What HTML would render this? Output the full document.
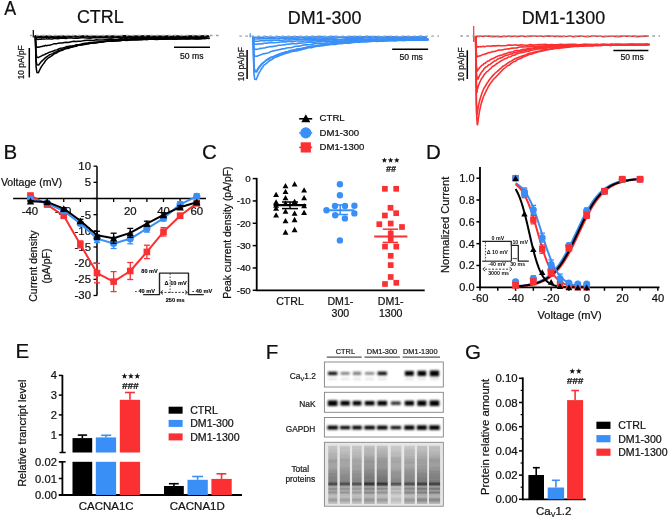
<!DOCTYPE html><html><head><meta charset="utf-8"><style>html,body{margin:0;padding:0;background:#fff;overflow:hidden}svg{display:block}text{filter:grayscale(1)}text{font-family:"Liberation Sans",sans-serif}</style></head><body><svg width="668" height="519" viewBox="0 0 668 519"><rect width="668" height="519" fill="#fff"/><text x="4.2" y="15.4" font-size="20.2" text-anchor="start" fill="#111" stroke="#111" stroke-width="0.22" textLength="11.9" lengthAdjust="spacingAndGlyphs" >A</text>
<text x="3.6" y="159.0" font-size="20.5" text-anchor="start" fill="#111" stroke="#111" stroke-width="0.22" >B</text>
<text x="201.9" y="159.3" font-size="20.5" text-anchor="start" fill="#111" stroke="#111" stroke-width="0.22" >C</text>
<text x="426.0" y="159.0" font-size="20.5" text-anchor="start" fill="#111" stroke="#111" stroke-width="0.22" >D</text>
<text x="15.6" y="358.4" font-size="20.5" text-anchor="start" fill="#111" stroke="#111" stroke-width="0.22" >E</text>
<text x="265.8" y="358.6" font-size="20.5" text-anchor="start" fill="#111" stroke="#111" stroke-width="0.22" >F</text>
<text x="464.9" y="358.5" font-size="20.5" text-anchor="start" fill="#111" stroke="#111" stroke-width="0.22" >G</text>
<polyline points="35.30,35.80 36.10,36.44 36.90,36.59 37.00,36.60 37.00,36.60 38.00,36.58 39.00,36.57 40.00,36.55 41.00,36.36 42.00,36.56 43.00,36.42 44.00,36.57 45.00,36.58 46.00,36.17 47.00,36.12 48.00,36.69 49.00,36.27 51.00,36.23 53.00,36.75 55.00,36.36 57.00,36.60 59.00,36.33 61.00,36.42 63.00,36.07 65.00,36.39 67.00,36.54 69.00,36.29 71.00,36.43 73.00,36.37 75.00,35.93 77.00,36.41 80.00,36.27 83.00,36.06 86.00,35.86 89.00,36.43 92.00,36.15 95.00,36.31 98.00,36.41 101.00,36.29 104.00,36.43 107.00,36.05 110.00,36.33 113.00,36.07 116.00,36.41 119.00,36.37 122.00,35.82 125.00,35.84 128.00,35.89 131.00,36.41 134.00,36.04 137.00,36.17 140.00,35.94 143.00,36.08 146.00,35.99 149.00,35.97 152.00,36.13 155.00,36.13 158.00,36.35 161.00,36.19 164.00,36.36 167.00,36.31 170.00,36.41 173.00,36.18 176.00,35.82 179.00,36.31 182.00,36.38 185.00,36.34 188.00,36.11 191.00,36.21 194.00,35.85 197.00,36.29 200.00,36.11 203.00,35.90 206.00,35.75 209.00,36.30" fill="none" stroke="#000000" stroke-width="1.5" stroke-linejoin="round" />
<polyline points="35.30,35.80 36.10,37.29 36.90,37.58 37.50,37.60 37.50,37.60 38.50,37.57 39.50,37.54 40.50,37.51 41.50,37.83 42.50,37.17 43.50,37.65 44.50,37.35 45.50,37.14 46.50,37.22 47.50,37.53 48.50,37.58 49.50,36.98 51.50,37.33 53.50,36.90 55.50,37.33 57.50,37.02 59.50,37.38 61.50,37.42 63.50,37.05 65.50,37.37 67.50,36.86 69.50,36.67 71.50,37.02 73.50,36.60 75.50,36.69 77.50,36.82 80.50,36.93 83.50,36.59 86.50,36.49 89.50,37.05 92.50,36.64 95.50,37.07 98.50,37.01 101.50,36.63 104.50,36.68 107.50,36.71 110.50,36.78 113.50,36.74 116.50,36.70 119.50,36.73 122.50,36.95 125.50,36.64 128.50,36.58 131.50,36.78 134.50,36.43 137.50,36.47 140.50,36.94 143.50,36.62 146.50,36.63 149.50,36.25 152.50,36.53 155.50,36.64 158.50,36.25 161.50,36.66 164.50,36.67 167.50,36.27 170.50,36.66 173.50,36.55 176.50,36.70 179.50,36.46 182.50,36.71 185.50,36.73 188.50,36.23 191.50,36.26 194.50,36.69 197.50,36.89 200.50,36.39 203.50,36.53 206.50,36.62 209.50,36.43" fill="none" stroke="#000000" stroke-width="1.5" stroke-linejoin="round" />
<polyline points="35.30,35.80 36.10,38.81 36.90,39.36 38.00,39.40 38.00,39.40 39.00,39.35 40.00,39.29 41.00,39.24 42.00,39.09 43.00,39.01 44.00,39.00 45.00,39.11 46.00,38.86 47.00,38.87 48.00,39.11 49.00,38.54 50.00,38.88 52.00,38.92 54.00,38.55 56.00,38.42 58.00,38.76 60.00,38.31 62.00,38.21 64.00,38.33 66.00,38.46 68.00,38.00 70.00,38.11 72.00,38.07 74.00,38.38 76.00,38.07 78.00,38.32 81.00,37.79 84.00,37.86 87.00,38.04 90.00,38.16 93.00,37.82 96.00,37.63 99.00,37.53 102.00,37.78 105.00,37.52 108.00,37.93 111.00,37.93 114.00,37.45 117.00,37.50 120.00,37.85 123.00,37.72 126.00,37.82 129.00,37.49 132.00,37.32 135.00,37.43 138.00,37.77 141.00,37.39 144.00,37.44 147.00,37.48 150.00,37.47 153.00,37.46 156.00,37.81 159.00,37.27 162.00,37.16 165.00,37.81 168.00,37.76 171.00,37.83 174.00,37.44 177.00,37.80 180.00,37.78 183.00,37.29 186.00,37.65 189.00,37.71 192.00,37.59 195.00,37.49 198.00,37.32 201.00,37.36 204.00,37.28 207.00,37.16" fill="none" stroke="#000000" stroke-width="1.5" stroke-linejoin="round" />
<polyline points="35.30,35.80 36.10,45.53 36.90,47.18 38.30,47.30 38.30,47.30 39.30,47.05 40.30,46.80 41.30,46.56 42.30,46.39 43.30,45.95 44.30,46.10 45.30,45.35 46.30,45.74 47.30,45.39 48.30,45.36 49.30,45.15 50.30,44.97 52.30,44.39 54.30,43.66 56.30,43.85 58.30,43.15 60.30,42.96 62.30,42.95 64.30,42.60 66.30,42.28 68.30,42.43 70.30,41.99 72.30,41.60 74.30,41.34 76.30,41.59 78.30,41.15 81.30,41.13 84.30,40.61 87.30,40.31 90.30,40.36 93.30,40.39 96.30,39.79 99.30,40.08 102.30,40.04 105.30,39.84 108.30,39.74 111.30,39.07 114.30,39.42 117.30,39.50 120.30,38.85 123.30,38.93 126.30,38.87 129.30,38.99 132.30,38.86 135.30,38.84 138.30,39.01 141.30,38.43 144.30,38.42 147.30,38.44 150.30,38.40 153.30,38.33 156.30,38.94 159.30,38.83 162.30,38.27 165.30,38.54 168.30,38.39 171.30,38.37 174.30,38.38 177.30,38.57 180.30,38.52 183.30,38.35 186.30,38.21 189.30,38.30 192.30,38.15 195.30,38.44 198.30,38.54 201.30,38.30 204.30,38.08 207.30,38.15" fill="none" stroke="#000000" stroke-width="1.5" stroke-linejoin="round" />
<polyline points="35.30,35.80 36.10,54.11 36.90,57.18 38.60,57.40 38.60,57.40 39.60,56.86 40.60,56.34 41.60,55.83 42.60,55.25 43.60,54.93 44.60,54.59 45.60,53.85 46.60,53.71 47.60,53.16 48.60,52.61 49.60,52.16 50.60,51.85 52.60,51.25 54.60,50.34 56.60,49.86 58.60,49.06 60.60,48.31 62.60,47.95 64.60,47.52 66.60,46.58 68.60,46.35 70.60,45.90 72.60,45.80 74.60,45.43 76.60,44.66 78.60,44.67 80.60,44.26 83.60,43.41 86.60,43.12 89.60,42.48 92.60,42.60 95.60,42.16 98.60,42.01 101.60,41.66 104.60,41.32 107.60,41.12 110.60,40.79 113.60,40.26 116.60,40.42 119.60,39.84 122.60,39.78 125.60,40.08 128.60,39.44 131.60,39.35 134.60,39.25 137.60,39.70 140.60,39.11 143.60,38.92 146.60,39.41 149.60,38.84 152.60,39.28 155.60,39.10 158.60,39.15 161.60,39.19 164.60,38.88 167.60,38.99 170.60,38.42 173.60,38.89 176.60,38.68 179.60,38.79 182.60,38.34 185.60,38.76 188.60,38.87 191.60,38.23 194.60,38.40 197.60,38.55 200.60,38.72 203.60,38.29 206.60,38.23 209.60,38.27" fill="none" stroke="#000000" stroke-width="1.5" stroke-linejoin="round" />
<polyline points="35.30,35.80 36.10,60.66 36.90,64.80 38.60,65.10 38.60,65.10 39.60,63.73 40.60,62.49 41.60,61.36 42.60,60.41 43.60,59.55 44.60,58.43 45.60,57.60 46.60,56.86 47.60,56.13 48.60,55.52 49.60,54.66 50.60,54.37 52.60,53.64 54.60,52.28 56.60,51.64 58.60,50.43 60.60,50.06 62.60,49.42 64.60,48.73 66.60,48.03 68.60,47.45 70.60,47.04 72.60,46.73 74.60,45.75 76.60,45.28 78.60,45.33 80.60,45.06 83.60,44.25 86.60,43.71 89.60,43.45 92.60,42.67 95.60,42.35 98.60,41.95 101.60,41.91 104.60,41.43 107.60,41.10 110.60,41.18 113.60,41.13 116.60,40.47 119.60,40.56 122.60,40.19 125.60,40.33 128.60,40.00 131.60,39.64 134.60,39.48 137.60,39.23 140.60,39.45 143.60,39.29 146.60,39.05 149.60,39.10 152.60,39.00 155.60,39.25 158.60,38.75 161.60,39.28 164.60,38.87 167.60,38.91 170.60,38.77 173.60,38.99 176.60,38.94 179.60,38.72 182.60,38.64 185.60,38.78 188.60,38.85 191.60,38.50 194.60,38.71 197.60,38.85 200.60,38.49 203.60,38.30 206.60,38.29 209.60,38.61" fill="none" stroke="#000000" stroke-width="1.5" stroke-linejoin="round" />
<polyline points="35.30,35.80 36.10,67.20 36.90,72.43 38.40,72.80 38.40,72.80 39.40,70.51 40.40,68.48 41.40,66.66 42.40,65.15 43.40,63.89 44.40,62.49 45.40,60.87 46.40,59.74 47.40,58.80 48.40,57.83 49.40,57.36 50.40,56.69 52.40,55.33 54.40,53.67 56.40,53.03 58.40,51.69 60.40,50.90 62.40,50.33 64.40,49.16 66.40,48.50 68.40,48.41 70.40,47.46 72.40,46.97 74.40,46.62 76.40,46.22 78.40,45.31 81.40,44.93 84.40,44.44 87.40,43.97 90.40,43.31 93.40,43.14 96.40,43.01 99.40,42.25 102.40,42.03 105.40,41.43 108.40,41.26 111.40,41.27 114.40,40.65 117.40,40.98 120.40,40.80 123.40,40.05 126.40,40.47 129.40,39.92 132.40,40.06 135.40,39.92 138.40,39.48 141.40,39.64 144.40,39.52 147.40,39.54 150.40,39.07 153.40,39.34 156.40,39.41 159.40,39.15 162.40,38.99 165.40,38.64 168.40,38.86 171.40,38.71 174.40,38.92 177.40,38.86 180.40,38.74 183.40,38.44 186.40,38.74 189.40,38.70 192.40,38.36 195.40,38.83 198.40,38.65 201.40,38.25 204.40,38.80 207.40,38.23" fill="none" stroke="#000000" stroke-width="1.5" stroke-linejoin="round" />
<line x1="33.3" y1="30.1" x2="33.3" y2="37.4" stroke="#000000" stroke-width="1.2" />
<line x1="30" y1="35.5" x2="222" y2="35.5" stroke="#a0a0a0" stroke-width="1.3" stroke-dasharray="2.6,3.4"/>
<polyline points="253.10,36.40 253.90,37.12 254.70,37.29 254.50,37.30 254.50,37.30 255.50,37.29 256.50,37.27 257.50,37.26 258.50,37.13 259.50,37.39 260.50,37.30 261.50,37.25 262.50,37.31 263.50,37.16 264.50,37.05 265.50,36.95 266.50,36.86 268.50,37.30 270.50,37.30 272.50,37.14 274.50,37.26 276.50,36.98 278.50,36.89 280.50,36.96 282.50,37.29 284.50,36.69 286.50,37.00 288.50,36.81 290.50,37.16 292.50,36.86 294.50,36.84 297.50,36.87 300.50,36.95 303.50,37.10 306.50,36.79 309.50,37.13 312.50,36.60 315.50,36.70 318.50,36.57 321.50,36.57 324.50,37.03 327.50,36.98 330.50,36.60 333.50,36.59 336.50,36.74 339.50,36.97 342.50,37.01 345.50,36.96 348.50,36.84 351.50,36.53 354.50,36.70 357.50,36.55 360.50,36.78 363.50,36.81 366.50,36.55 369.50,36.58 372.50,36.94 375.50,36.42 378.50,36.95 381.50,37.01 384.50,37.05 387.50,36.65 390.50,36.77 393.50,36.79 396.50,36.82 399.50,37.06 402.50,36.86 405.50,36.58 408.50,36.97 411.50,36.71 414.50,36.79 417.50,36.88 420.50,36.37 423.50,36.91 426.50,36.83" fill="none" stroke="#3a8ff6" stroke-width="1.6" stroke-linejoin="round" />
<polyline points="253.10,36.40 253.90,38.56 254.70,38.97 255.00,39.00 255.00,39.00 256.00,38.97 257.00,38.94 258.00,38.91 259.00,38.87 260.00,38.87 261.00,38.80 262.00,38.58 263.00,38.79 264.00,38.42 265.00,38.72 266.00,38.80 267.00,38.63 269.00,38.67 271.00,38.90 273.00,38.81 275.00,38.24 277.00,38.66 279.00,38.50 281.00,38.06 283.00,38.25 285.00,38.12 287.00,37.98 289.00,38.28 291.00,38.52 293.00,38.07 295.00,38.42 298.00,38.26 301.00,37.83 304.00,38.31 307.00,38.09 310.00,38.29 313.00,38.12 316.00,38.11 319.00,37.81 322.00,38.11 325.00,38.17 328.00,38.10 331.00,37.79 334.00,37.99 337.00,37.79 340.00,37.51 343.00,37.45 346.00,37.46 349.00,37.53 352.00,37.49 355.00,37.72 358.00,37.85 361.00,37.72 364.00,37.63 367.00,37.78 370.00,37.54 373.00,37.64 376.00,37.84 379.00,37.58 382.00,37.42 385.00,37.92 388.00,37.79 391.00,37.53 394.00,37.53 397.00,37.64 400.00,37.68 403.00,37.42 406.00,37.26 409.00,37.40 412.00,37.80 415.00,37.35 418.00,37.57 421.00,37.38 424.00,37.38 427.00,37.36" fill="none" stroke="#3a8ff6" stroke-width="1.6" stroke-linejoin="round" />
<polyline points="253.10,36.40 253.90,40.52 254.70,41.25 255.50,41.30 255.50,41.30 256.50,41.24 257.50,41.19 258.50,41.14 259.50,41.02 260.50,40.80 261.50,40.65 262.50,40.66 263.50,40.66 264.50,40.84 265.50,40.49 266.50,40.42 267.50,40.67 269.50,40.56 271.50,40.69 273.50,40.15 275.50,40.32 277.50,40.25 279.50,39.92 281.50,40.51 283.50,39.93 285.50,39.78 287.50,39.99 289.50,39.72 291.50,39.98 293.50,39.74 295.50,39.54 298.50,39.42 301.50,39.83 304.50,39.45 307.50,39.75 310.50,39.47 313.50,39.75 316.50,39.26 319.50,39.18 322.50,39.15 325.50,39.50 328.50,39.33 331.50,39.10 334.50,38.89 337.50,39.27 340.50,39.45 343.50,39.16 346.50,38.72 349.50,38.72 352.50,38.74 355.50,38.77 358.50,38.66 361.50,38.65 364.50,39.06 367.50,39.21 370.50,38.71 373.50,39.24 376.50,38.88 379.50,39.09 382.50,39.16 385.50,39.17 388.50,38.52 391.50,38.70 394.50,38.91 397.50,39.14 400.50,38.53 403.50,38.66 406.50,39.05 409.50,38.53 412.50,38.71 415.50,38.67 418.50,38.90 421.50,39.07 424.50,38.54 427.50,38.93" fill="none" stroke="#3a8ff6" stroke-width="1.6" stroke-linejoin="round" />
<polyline points="253.10,36.40 253.90,42.98 254.70,44.12 256.00,44.20 256.00,44.20 257.00,44.09 258.00,43.99 259.00,43.88 260.00,43.94 261.00,43.92 262.00,43.62 263.00,43.78 264.00,43.30 265.00,43.24 266.00,43.02 267.00,43.32 268.00,43.03 270.00,42.71 272.00,42.48 274.00,42.72 276.00,42.49 278.00,42.43 280.00,42.06 282.00,42.01 284.00,41.65 286.00,41.92 288.00,41.33 290.00,41.53 292.00,41.63 294.00,41.48 296.00,40.98 299.00,40.94 302.00,41.24 305.00,40.98 308.00,41.03 311.00,40.92 314.00,40.53 317.00,40.75 320.00,40.55 323.00,40.19 326.00,40.14 329.00,39.86 332.00,40.02 335.00,40.35 338.00,39.70 341.00,39.97 344.00,39.60 347.00,39.53 350.00,39.88 353.00,39.55 356.00,39.38 359.00,39.41 362.00,39.72 365.00,39.65 368.00,39.22 371.00,39.34 374.00,39.83 377.00,39.28 380.00,39.50 383.00,39.38 386.00,39.61 389.00,39.47 392.00,39.58 395.00,39.38 398.00,39.12 401.00,39.10 404.00,39.02 407.00,39.53 410.00,39.01 413.00,38.94 416.00,39.59 419.00,39.04 422.00,39.52 425.00,38.94 428.00,39.20" fill="none" stroke="#3a8ff6" stroke-width="1.6" stroke-linejoin="round" />
<polyline points="253.10,36.40 253.90,47.41 254.70,49.27 256.30,49.40 256.30,49.40 257.30,49.18 258.30,48.97 259.30,48.76 260.30,48.36 261.30,48.58 262.30,48.23 263.30,48.06 264.30,47.95 265.30,47.85 266.30,47.30 267.30,47.30 268.30,47.02 270.30,46.45 272.30,46.64 274.30,46.16 276.30,46.02 278.30,45.31 280.30,45.27 282.30,44.96 284.30,44.90 286.30,44.21 288.30,44.17 290.30,44.05 292.30,43.55 294.30,43.69 296.30,43.62 299.30,43.13 302.30,43.03 305.30,42.76 308.30,42.27 311.30,42.15 314.30,42.41 317.30,41.76 320.30,41.65 323.30,41.25 326.30,41.19 329.30,41.01 332.30,41.41 335.30,41.14 338.30,41.13 341.30,41.10 344.30,40.73 347.30,40.86 350.30,40.49 353.30,40.32 356.30,40.61 359.30,40.51 362.30,40.47 365.30,40.08 368.30,40.22 371.30,39.90 374.30,40.26 377.30,40.16 380.30,39.67 383.30,40.07 386.30,39.51 389.30,39.41 392.30,39.81 395.30,39.47 398.30,39.60 401.30,39.65 404.30,39.21 407.30,39.67 410.30,39.32 413.30,39.40 416.30,39.32 419.30,39.58 422.30,39.56 425.30,39.22 428.30,39.08" fill="none" stroke="#3a8ff6" stroke-width="1.6" stroke-linejoin="round" />
<polyline points="253.10,36.40 253.90,53.27 254.70,56.10 256.60,56.30 256.60,56.30 257.60,55.93 258.60,55.58 259.60,55.23 260.60,54.74 261.60,54.48 262.60,53.92 263.60,53.65 264.60,53.77 265.60,53.41 266.60,53.31 267.60,53.01 268.60,52.65 270.60,51.74 272.60,51.06 274.60,50.65 276.60,50.26 278.60,49.83 280.60,49.39 282.60,48.84 284.60,48.77 286.60,47.97 288.60,47.72 290.60,47.65 292.60,47.25 294.60,46.55 296.60,46.20 299.60,46.14 302.60,45.15 305.60,44.84 308.60,44.74 311.60,44.40 314.60,43.81 317.60,43.42 320.60,43.24 323.60,43.36 326.60,42.89 329.60,43.01 332.60,42.66 335.60,42.58 338.60,41.72 341.60,41.64 344.60,41.35 347.60,41.48 350.60,41.27 353.60,40.92 356.60,41.13 359.60,40.69 362.60,40.73 365.60,40.57 368.60,40.86 371.60,40.49 374.60,40.29 377.60,40.06 380.60,40.25 383.60,40.31 386.60,40.27 389.60,40.37 392.60,40.24 395.60,39.79 398.60,39.66 401.60,40.04 404.60,40.02 407.60,39.77 410.60,39.96 413.60,39.72 416.60,39.50 419.60,39.38 422.60,39.25 425.60,39.65 428.60,39.80" fill="none" stroke="#3a8ff6" stroke-width="1.6" stroke-linejoin="round" />
<polyline points="253.10,36.40 253.90,65.59 254.70,70.45 256.60,70.80 256.60,70.80 257.60,69.07 258.60,67.54 259.60,66.19 260.60,65.27 261.60,63.89 262.60,63.06 263.60,62.37 264.60,61.49 265.60,60.61 266.60,59.80 267.60,59.25 268.60,58.42 270.60,57.37 272.60,56.78 274.60,56.14 276.60,55.05 278.60,54.22 280.60,53.50 282.60,52.93 284.60,52.57 286.60,51.76 288.60,51.57 290.60,50.49 292.60,50.10 294.60,49.78 296.60,49.25 299.60,48.91 302.60,48.30 305.60,47.81 308.60,47.06 311.60,46.16 314.60,46.08 317.60,45.63 320.60,45.18 323.60,44.65 326.60,44.60 329.60,44.41 332.60,43.53 335.60,43.63 338.60,43.14 341.60,42.99 344.60,43.01 347.60,42.83 350.60,42.39 353.60,41.88 356.60,42.20 359.60,41.51 362.60,41.49 365.60,41.64 368.60,41.14 371.60,40.97 374.60,41.32 377.60,41.20 380.60,40.65 383.60,40.60 386.60,40.42 389.60,40.22 392.60,40.22 395.60,40.65 398.60,39.94 401.60,39.98 404.60,39.89 407.60,39.74 410.60,40.00 413.60,40.09 416.60,40.11 419.60,39.92 422.60,40.00 425.60,39.39 428.60,39.54" fill="none" stroke="#3a8ff6" stroke-width="1.6" stroke-linejoin="round" />
<polyline points="253.10,36.40 253.90,66.61 254.70,71.64 256.60,72.00 256.60,72.00 257.60,70.13 258.60,68.49 259.60,67.04 260.60,66.08 261.60,64.31 262.60,63.42 263.60,62.64 264.60,61.65 265.60,61.07 266.60,60.01 267.60,59.49 268.60,59.39 270.60,57.72 272.60,57.28 274.60,55.89 276.60,55.65 278.60,54.68 280.60,53.97 282.60,52.96 284.60,52.28 286.60,52.19 288.60,51.23 290.60,50.71 292.60,50.65 294.60,50.21 296.60,49.17 299.60,49.16 302.60,48.25 305.60,47.57 308.60,46.84 311.60,46.54 314.60,46.49 317.60,45.55 320.60,45.04 323.60,44.66 326.60,44.28 329.60,44.10 332.60,44.18 335.60,43.29 338.60,43.09 341.60,43.35 344.60,43.14 347.60,42.90 350.60,42.17 353.60,42.04 356.60,42.27 359.60,41.77 362.60,41.75 365.60,41.32 368.60,40.97 371.60,41.06 374.60,41.21 377.60,41.12 380.60,40.85 383.60,40.67 386.60,40.62 389.60,40.46 392.60,40.44 395.60,40.57 398.60,40.05 401.60,40.25 404.60,40.42 407.60,40.30 410.60,39.77 413.60,40.26 416.60,40.12 419.60,39.60 422.60,39.63 425.60,39.54 428.60,39.39" fill="none" stroke="#3a8ff6" stroke-width="1.6" stroke-linejoin="round" />
<polyline points="253.10,36.40 253.90,73.07 254.70,79.16 256.30,79.60 256.30,79.60 257.30,76.85 258.30,74.47 259.30,72.39 260.30,70.90 261.30,68.90 262.30,67.80 263.30,66.01 264.30,64.81 265.30,64.39 266.30,63.42 267.30,62.72 268.30,61.73 270.30,60.26 272.30,59.24 274.30,57.72 276.30,57.09 278.30,56.17 280.30,55.17 282.30,54.75 284.30,53.86 286.30,53.34 288.30,52.63 290.30,52.00 292.30,51.47 294.30,51.11 296.30,50.87 299.30,50.12 302.30,49.40 305.30,48.75 308.30,47.78 311.30,47.71 314.30,46.70 317.30,46.11 320.30,45.92 323.30,45.65 326.30,44.98 329.30,44.82 332.30,44.21 335.30,44.36 338.30,43.70 341.30,43.42 344.30,43.19 347.30,43.18 350.30,43.02 353.30,42.47 356.30,42.20 359.30,42.13 362.30,41.56 365.30,41.64 368.30,41.77 371.30,41.57 374.30,40.93 377.30,41.35 380.30,40.89 383.30,41.20 386.30,40.66 389.30,40.45 392.30,40.58 395.30,40.73 398.30,40.33 401.30,40.55 404.30,40.37 407.30,40.05 410.30,39.94 413.30,40.03 416.30,39.89 419.30,39.82 422.30,39.97 425.30,40.08 428.30,39.83" fill="none" stroke="#3a8ff6" stroke-width="1.6" stroke-linejoin="round" />
<line x1="250.2" y1="33.2" x2="250.2" y2="37.5" stroke="#3a8ff6" stroke-width="1.2" />
<line x1="239.3" y1="36.1" x2="439" y2="36.1" stroke="#a0a0a0" stroke-width="1.3" stroke-dasharray="2.6,3.4"/>
<polyline points="475.60,36.30 476.40,36.34 477.20,36.40 476.50,36.40 476.50,36.40 477.50,36.40 478.50,36.39 479.50,36.39 480.50,36.14 481.50,36.19 482.50,36.29 483.50,36.46 484.50,36.13 485.50,36.09 486.50,36.25 487.50,36.22 488.50,36.04 490.50,36.40 492.50,36.66 494.50,36.39 496.50,36.53 498.50,36.59 500.50,36.59 502.50,36.64 504.50,36.31 506.50,36.48 508.50,36.08 510.50,36.61 512.50,36.26 514.50,36.32 516.50,36.61 519.50,36.19 522.50,36.12 525.50,36.56 528.50,36.40 531.50,36.04 534.50,36.00 537.50,36.23 540.50,35.98 543.50,36.56 546.50,36.11 549.50,36.17 552.50,36.25 555.50,36.33 558.50,36.28 561.50,36.41 564.50,36.44 567.50,36.28 570.50,36.04 573.50,36.66 576.50,36.46 579.50,36.03 582.50,36.28 585.50,36.50 588.50,36.67 591.50,36.02 594.50,35.98 597.50,36.31 600.50,36.27 603.50,36.60 606.50,36.55 609.50,36.20 612.50,36.26 615.50,36.38 618.50,36.59 621.50,36.11 624.50,36.24 627.50,36.03 630.50,36.42 633.50,35.99 636.50,36.62 639.50,36.34 642.50,36.37 645.50,36.03 648.50,36.13" fill="none" stroke="#fa3032" stroke-width="1.6" stroke-linejoin="round" />
<polyline points="475.60,36.30 476.40,45.35 477.20,46.89 476.30,47.00 476.30,47.00 477.30,46.92 478.30,46.83 479.30,46.75 480.30,46.66 481.30,46.85 482.30,46.56 483.30,46.31 484.30,46.73 485.30,46.45 486.30,46.29 487.30,46.00 488.30,46.01 490.30,46.32 492.30,45.68 494.30,45.87 496.30,45.84 498.30,45.57 500.30,45.78 502.30,45.81 504.30,45.70 506.30,45.56 508.30,45.12 510.30,44.97 512.30,45.18 514.30,45.04 516.30,44.92 518.30,45.35 521.30,44.83 524.30,45.20 527.30,45.24 530.30,44.62 533.30,45.14 536.30,44.74 539.30,44.58 542.30,44.54 545.30,44.41 548.30,44.71 551.30,44.61 554.30,44.92 557.30,44.89 560.30,44.33 563.30,44.56 566.30,44.53 569.30,44.38 572.30,44.42 575.30,44.42 578.30,44.71 581.30,44.46 584.30,44.29 587.30,44.36 590.30,44.51 593.30,44.59 596.30,44.36 599.30,44.68 602.30,44.33 605.30,44.65 608.30,44.60 611.30,44.30 614.30,44.70 617.30,44.45 620.30,44.55 623.30,44.58 626.30,44.60 629.30,44.47 632.30,44.20 635.30,44.71 638.30,44.76 641.30,44.50 644.30,44.56 647.30,44.34" fill="none" stroke="#fa3032" stroke-width="1.6" stroke-linejoin="round" />
<polyline points="475.60,36.30 476.40,53.85 477.20,56.79 476.80,57.00 476.80,57.00 477.80,56.58 478.80,56.17 479.80,55.77 480.80,55.67 481.80,55.15 482.80,54.47 483.80,54.54 484.80,54.33 485.80,53.56 486.80,53.70 487.80,53.04 488.80,52.54 490.80,52.37 492.80,51.59 494.80,51.38 496.80,50.83 498.80,50.08 500.80,49.98 502.80,49.85 504.80,49.24 506.80,48.97 508.80,48.90 510.80,48.33 512.80,48.11 514.80,47.93 516.80,47.87 518.80,47.23 521.80,46.86 524.80,47.07 527.80,46.69 530.80,46.30 533.80,46.53 536.80,46.35 539.80,45.95 542.80,46.13 545.80,45.89 548.80,45.72 551.80,45.30 554.80,45.01 557.80,45.39 560.80,45.35 563.80,45.02 566.80,45.05 569.80,45.05 572.80,44.78 575.80,45.05 578.80,44.91 581.80,44.75 584.80,44.53 587.80,44.81 590.80,44.62 593.80,44.88 596.80,44.47 599.80,44.61 602.80,44.45 605.80,44.58 608.80,44.69 611.80,44.34 614.80,44.30 617.80,44.58 620.80,44.38 623.80,44.58 626.80,44.34 629.80,44.28 632.80,44.58 635.80,44.85 638.80,44.80 641.80,44.55 644.80,44.47 647.80,44.23" fill="none" stroke="#fa3032" stroke-width="1.6" stroke-linejoin="round" />
<polyline points="475.60,36.30 476.40,66.09 477.20,71.05 477.00,71.40 477.00,71.40 478.00,69.83 479.00,68.49 480.00,67.33 481.00,66.14 482.00,65.25 483.00,64.85 484.00,63.50 485.00,63.36 486.00,62.35 487.00,61.67 488.00,60.94 489.00,60.85 491.00,59.22 493.00,58.48 495.00,57.50 497.00,56.42 499.00,55.62 501.00,55.40 503.00,54.56 505.00,53.86 507.00,53.37 509.00,52.23 511.00,52.12 513.00,51.66 515.00,50.82 517.00,50.55 520.00,50.32 523.00,49.32 526.00,49.14 529.00,48.29 532.00,48.24 535.00,47.61 538.00,47.45 541.00,47.07 544.00,47.16 547.00,46.83 550.00,46.45 553.00,46.39 556.00,46.03 559.00,46.14 562.00,45.62 565.00,45.69 568.00,45.61 571.00,45.37 574.00,45.03 577.00,45.04 580.00,45.29 583.00,44.92 586.00,45.24 589.00,45.01 592.00,45.28 595.00,45.16 598.00,45.03 601.00,44.75 604.00,44.48 607.00,44.81 610.00,44.92 613.00,45.02 616.00,44.49 619.00,44.44 622.00,45.00 625.00,44.81 628.00,44.62 631.00,44.79 634.00,44.36 637.00,44.63 640.00,44.71 643.00,44.65 646.00,44.33 649.00,44.31" fill="none" stroke="#fa3032" stroke-width="1.6" stroke-linejoin="round" />
<polyline points="475.60,36.30 476.40,72.63 477.20,78.67 478.00,79.10 478.00,79.10 479.00,76.67 480.00,74.67 481.00,72.99 482.00,71.64 483.00,70.56 484.00,68.91 485.00,67.80 486.00,66.92 487.00,66.55 488.00,65.46 489.00,64.75 490.00,64.40 492.00,62.78 494.00,61.30 496.00,60.47 498.00,58.92 500.00,58.13 502.00,57.50 504.00,56.27 506.00,55.37 508.00,54.97 510.00,54.14 512.00,53.94 514.00,52.72 516.00,52.64 518.00,51.83 521.00,51.39 524.00,50.48 527.00,50.05 530.00,49.27 533.00,48.72 536.00,48.45 539.00,48.30 542.00,47.63 545.00,47.23 548.00,47.07 551.00,46.59 554.00,46.51 557.00,46.48 560.00,46.27 563.00,46.14 566.00,45.77 569.00,45.44 572.00,45.32 575.00,45.42 578.00,45.22 581.00,45.39 584.00,45.10 587.00,45.37 590.00,45.19 593.00,45.17 596.00,45.17 599.00,44.97 602.00,44.86 605.00,44.73 608.00,44.53 611.00,45.01 614.00,44.77 617.00,44.46 620.00,45.02 623.00,44.76 626.00,44.77 629.00,44.62 632.00,44.38 635.00,44.98 638.00,44.39 641.00,44.51 644.00,44.95 647.00,44.32 650.00,44.58" fill="none" stroke="#fa3032" stroke-width="1.6" stroke-linejoin="round" />
<polyline points="475.60,36.30 476.40,84.11 477.20,92.03 476.50,92.60 476.50,92.60 477.50,88.68 478.50,85.52 479.50,82.93 480.50,80.74 481.50,78.72 482.50,77.57 483.50,75.77 484.50,74.19 485.50,73.32 486.50,71.89 487.50,71.35 488.50,70.49 490.50,68.72 492.50,66.48 494.50,65.42 496.50,63.76 498.50,62.58 500.50,61.25 502.50,60.12 504.50,58.95 506.50,58.32 508.50,57.03 510.50,56.78 512.50,55.34 514.50,55.24 516.50,54.01 519.50,52.98 522.50,52.58 525.50,51.65 528.50,51.12 531.50,50.30 534.50,49.82 537.50,48.92 540.50,48.87 543.50,48.34 546.50,48.28 549.50,47.27 552.50,47.01 555.50,47.16 558.50,47.08 561.50,46.51 564.50,46.51 567.50,46.22 570.50,45.93 573.50,45.84 576.50,45.80 579.50,45.28 582.50,45.36 585.50,45.57 588.50,45.14 591.50,45.21 594.50,44.99 597.50,45.00 600.50,45.14 603.50,45.15 606.50,45.26 609.50,44.88 612.50,44.65 615.50,44.71 618.50,44.48 621.50,44.58 624.50,44.79 627.50,44.79 630.50,44.51 633.50,44.45 636.50,44.37 639.50,44.41 642.50,44.63 645.50,44.44 648.50,44.87" fill="none" stroke="#fa3032" stroke-width="1.6" stroke-linejoin="round" />
<polyline points="475.60,36.30 476.40,102.98 477.20,114.01 477.00,114.80 477.00,114.80 478.00,108.42 479.00,103.36 480.00,99.27 481.00,95.94 482.00,92.94 483.00,90.56 484.00,88.15 485.00,86.73 486.00,85.01 487.00,83.15 488.00,81.93 489.00,80.24 491.00,77.67 493.00,75.38 495.00,73.25 497.00,71.58 499.00,69.80 501.00,68.17 503.00,66.17 505.00,65.17 507.00,63.60 509.00,62.25 511.00,61.15 513.00,59.99 515.00,58.79 517.00,57.96 520.00,56.81 523.00,55.66 526.00,54.72 529.00,53.24 532.00,52.84 535.00,51.99 538.00,51.21 541.00,50.75 544.00,49.58 547.00,49.51 550.00,49.12 553.00,48.15 556.00,48.09 559.00,47.99 562.00,47.22 565.00,47.34 568.00,47.12 571.00,46.56 574.00,46.15 577.00,46.01 580.00,46.27 583.00,45.84 586.00,45.62 589.00,45.59 592.00,45.82 595.00,45.25 598.00,44.99 601.00,45.56 604.00,45.05 607.00,45.03 610.00,45.38 613.00,44.84 616.00,44.66 619.00,45.17 622.00,44.68 625.00,44.63 628.00,45.10 631.00,44.58 634.00,45.02 637.00,44.60 640.00,44.56 643.00,44.48 646.00,44.69 649.00,44.68" fill="none" stroke="#fa3032" stroke-width="1.6" stroke-linejoin="round" />
<polyline points="475.60,36.30 476.40,111.48 477.20,123.91 477.50,124.80 477.50,124.80 478.50,117.31 479.50,111.40 480.50,106.63 481.50,102.64 482.50,99.43 483.50,96.48 484.50,94.40 485.50,92.29 486.50,90.19 487.50,88.43 488.50,86.24 489.50,84.80 491.50,81.90 493.50,79.27 495.50,77.46 497.50,75.22 499.50,73.19 501.50,71.04 503.50,68.96 505.50,67.53 507.50,65.73 509.50,64.89 511.50,63.10 513.50,61.86 515.50,61.16 517.50,59.55 520.50,58.55 523.50,56.77 526.50,55.80 529.50,54.31 532.50,53.87 535.50,52.63 538.50,51.79 541.50,51.28 544.50,50.58 547.50,49.75 550.50,49.13 553.50,48.96 556.50,48.14 559.50,48.34 562.50,47.62 565.50,47.18 568.50,47.01 571.50,46.60 574.50,46.51 577.50,46.46 580.50,46.17 583.50,45.95 586.50,45.77 589.50,45.76 592.50,45.84 595.50,45.49 598.50,45.62 601.50,45.33 604.50,44.99 607.50,44.95 610.50,45.36 613.50,45.04 616.50,44.92 619.50,44.96 622.50,45.15 625.50,44.78 628.50,44.74 631.50,44.71 634.50,44.43 637.50,44.77 640.50,44.70 643.50,44.69 646.50,44.64 649.50,44.64" fill="none" stroke="#fa3032" stroke-width="1.6" stroke-linejoin="round" />
<line x1="473.7" y1="26" x2="473.7" y2="42" stroke="#fa3032" stroke-width="1.2" />
<line x1="460.4" y1="36.0" x2="660" y2="36.0" stroke="#a0a0a0" stroke-width="1.3" stroke-dasharray="2.6,3.4"/>
<line x1="29.3" y1="48" x2="29.3" y2="77.4" stroke="#000" stroke-width="1.5" />
<line x1="174" y1="47.2" x2="210" y2="47.2" stroke="#000" stroke-width="1.5" />
<text x="191.8" y="59.3" font-size="8.6" text-anchor="middle" fill="#111" stroke="#111" stroke-width="0.22" >50 ms</text>
<text transform="translate(21.0,62.3) rotate(-90)" x="0" y="0" font-size="8.4" text-anchor="middle" dominant-baseline="central" fill="#111" stroke="#111" stroke-width="0.22">10 pA/pF</text>
<line x1="247.1" y1="50" x2="247.1" y2="78.9" stroke="#000" stroke-width="1.5" />
<line x1="392.2" y1="49.3" x2="428.1" y2="49.3" stroke="#000" stroke-width="1.5" />
<text x="411.2" y="60.3" font-size="8.6" text-anchor="middle" fill="#111" stroke="#111" stroke-width="0.22" >50 ms</text>
<text transform="translate(240.9,64.2) rotate(-90)" x="0" y="0" font-size="8.4" text-anchor="middle" dominant-baseline="central" fill="#111" stroke="#111" stroke-width="0.22">10 pA/pF</text>
<line x1="467.3" y1="50.3" x2="467.3" y2="79" stroke="#000" stroke-width="1.5" />
<line x1="613.4" y1="50.6" x2="648.4" y2="50.6" stroke="#000" stroke-width="1.5" />
<text x="632.1" y="60.2" font-size="8.6" text-anchor="middle" fill="#111" stroke="#111" stroke-width="0.22" >50 ms</text>
<text transform="translate(460.9,64.4) rotate(-90)" x="0" y="0" font-size="8.4" text-anchor="middle" dominant-baseline="central" fill="#111" stroke="#111" stroke-width="0.22">10 pA/pF</text>
<text x="100.3" y="22.9" font-size="17.9" text-anchor="middle" fill="#111" stroke="#111" stroke-width="0.22" >CTRL</text>
<text x="324.6" y="23.7" font-size="17.9" text-anchor="middle" fill="#111" stroke="#111" stroke-width="0.22" >DM1-300</text>
<text x="563.4" y="23.7" font-size="17.9" text-anchor="middle" fill="#111" stroke="#111" stroke-width="0.22" >DM1-1300</text>
<line x1="13.1" y1="198.5" x2="206" y2="198.5" stroke="#000" stroke-width="1.5" />
<line x1="97.0" y1="166.3" x2="97.0" y2="295.6" stroke="#000" stroke-width="1.5" />
<line x1="93.5" y1="295.49" x2="97.0" y2="295.49" stroke="#000" stroke-width="1.3" />
<line x1="93.5" y1="279.325" x2="97.0" y2="279.325" stroke="#000" stroke-width="1.3" />
<line x1="93.5" y1="263.15999999999997" x2="97.0" y2="263.15999999999997" stroke="#000" stroke-width="1.3" />
<line x1="93.5" y1="246.995" x2="97.0" y2="246.995" stroke="#000" stroke-width="1.3" />
<line x1="93.5" y1="230.82999999999998" x2="97.0" y2="230.82999999999998" stroke="#000" stroke-width="1.3" />
<line x1="93.5" y1="214.665" x2="97.0" y2="214.665" stroke="#000" stroke-width="1.3" />
<line x1="93.5" y1="198.5" x2="97.0" y2="198.5" stroke="#000" stroke-width="1.3" />
<line x1="93.5" y1="182.335" x2="97.0" y2="182.335" stroke="#000" stroke-width="1.3" />
<line x1="93.5" y1="166.17000000000002" x2="97.0" y2="166.17000000000002" stroke="#000" stroke-width="1.3" />
<line x1="30.5" y1="198.5" x2="30.5" y2="202.0" stroke="#000" stroke-width="1.3" />
<line x1="47.125" y1="198.5" x2="47.125" y2="202.0" stroke="#000" stroke-width="1.3" />
<line x1="63.75" y1="198.5" x2="63.75" y2="202.0" stroke="#000" stroke-width="1.3" />
<line x1="80.375" y1="198.5" x2="80.375" y2="202.0" stroke="#000" stroke-width="1.3" />
<line x1="113.625" y1="198.5" x2="113.625" y2="202.0" stroke="#000" stroke-width="1.3" />
<line x1="130.25" y1="198.5" x2="130.25" y2="202.0" stroke="#000" stroke-width="1.3" />
<line x1="146.875" y1="198.5" x2="146.875" y2="202.0" stroke="#000" stroke-width="1.3" />
<line x1="163.5" y1="198.5" x2="163.5" y2="202.0" stroke="#000" stroke-width="1.3" />
<line x1="180.125" y1="198.5" x2="180.125" y2="202.0" stroke="#000" stroke-width="1.3" />
<line x1="196.75" y1="198.5" x2="196.75" y2="202.0" stroke="#000" stroke-width="1.3" />
<text x="91.0" y="170.17000000000002" font-size="11.4" text-anchor="end" fill="#111" stroke="#111" stroke-width="0.22" >10</text>
<text x="91.0" y="186.335" font-size="11.4" text-anchor="end" fill="#111" stroke="#111" stroke-width="0.22" >5</text>
<text x="91.0" y="218.665" font-size="11.4" text-anchor="end" fill="#111" stroke="#111" stroke-width="0.22" >-5</text>
<text x="91.0" y="234.82999999999998" font-size="11.4" text-anchor="end" fill="#111" stroke="#111" stroke-width="0.22" >-10</text>
<text x="91.0" y="250.995" font-size="11.4" text-anchor="end" fill="#111" stroke="#111" stroke-width="0.22" >-15</text>
<text x="91.0" y="267.15999999999997" font-size="11.4" text-anchor="end" fill="#111" stroke="#111" stroke-width="0.22" >-20</text>
<text x="91.0" y="283.325" font-size="11.4" text-anchor="end" fill="#111" stroke="#111" stroke-width="0.22" >-25</text>
<text x="91.0" y="299.49" font-size="11.4" text-anchor="end" fill="#111" stroke="#111" stroke-width="0.22" >-30</text>
<text x="29.9" y="215.3" font-size="11.4" text-anchor="middle" fill="#111" stroke="#111" stroke-width="0.22" >-40</text>
<text x="63.15" y="215.3" font-size="11.4" text-anchor="middle" fill="#111" stroke="#111" stroke-width="0.22" >-20</text>
<text x="130.25" y="215.3" font-size="11.4" text-anchor="middle" fill="#111" stroke="#111" stroke-width="0.22" >20</text>
<text x="163.5" y="215.3" font-size="11.4" text-anchor="middle" fill="#111" stroke="#111" stroke-width="0.22" >40</text>
<text x="196.75" y="215.3" font-size="11.4" text-anchor="middle" fill="#111" stroke="#111" stroke-width="0.22" >60</text>
<text x="0.9" y="185.5" font-size="10.6" text-anchor="start" fill="#111" stroke="#111" stroke-width="0.22" >Voltage (mV)</text>
<text transform="translate(32.9,266.2) rotate(-90)" x="0" y="0" font-size="10.5" text-anchor="middle" dominant-baseline="central" fill="#111" stroke="#111" stroke-width="0.22">Current density</text>
<text transform="translate(45.6,266.0) rotate(-90)" x="0" y="0" font-size="10.5" text-anchor="middle" dominant-baseline="central" fill="#111" stroke="#111" stroke-width="0.22">(pA/pF)</text>
<line x1="30.5" y1="195.0" x2="30.5" y2="196.0" stroke="#fa3032" stroke-width="1.3" />
<line x1="27.5" y1="195.0" x2="33.5" y2="195.0" stroke="#fa3032" stroke-width="1.3" />
<line x1="27.5" y1="196.0" x2="33.5" y2="196.0" stroke="#fa3032" stroke-width="1.3" />
<line x1="47.125" y1="203.6" x2="47.125" y2="205.6" stroke="#fa3032" stroke-width="1.3" />
<line x1="44.125" y1="203.6" x2="50.125" y2="203.6" stroke="#fa3032" stroke-width="1.3" />
<line x1="44.125" y1="205.6" x2="50.125" y2="205.6" stroke="#fa3032" stroke-width="1.3" />
<line x1="63.75" y1="214.3" x2="63.75" y2="217.3" stroke="#fa3032" stroke-width="1.3" />
<line x1="60.75" y1="214.3" x2="66.75" y2="214.3" stroke="#fa3032" stroke-width="1.3" />
<line x1="60.75" y1="217.3" x2="66.75" y2="217.3" stroke="#fa3032" stroke-width="1.3" />
<line x1="80.375" y1="240.9" x2="80.375" y2="247.9" stroke="#fa3032" stroke-width="1.3" />
<line x1="77.375" y1="240.9" x2="83.375" y2="240.9" stroke="#fa3032" stroke-width="1.3" />
<line x1="77.375" y1="247.9" x2="83.375" y2="247.9" stroke="#fa3032" stroke-width="1.3" />
<line x1="97.0" y1="263.40000000000003" x2="97.0" y2="282.8" stroke="#fa3032" stroke-width="1.3" />
<line x1="94.0" y1="263.40000000000003" x2="100.0" y2="263.40000000000003" stroke="#fa3032" stroke-width="1.3" />
<line x1="94.0" y1="282.8" x2="100.0" y2="282.8" stroke="#fa3032" stroke-width="1.3" />
<line x1="113.625" y1="271.6" x2="113.625" y2="291.6" stroke="#fa3032" stroke-width="1.3" />
<line x1="110.625" y1="271.6" x2="116.625" y2="271.6" stroke="#fa3032" stroke-width="1.3" />
<line x1="110.625" y1="291.6" x2="116.625" y2="291.6" stroke="#fa3032" stroke-width="1.3" />
<line x1="130.25" y1="262.5" x2="130.25" y2="279.5" stroke="#fa3032" stroke-width="1.3" />
<line x1="127.25" y1="262.5" x2="133.25" y2="262.5" stroke="#fa3032" stroke-width="1.3" />
<line x1="127.25" y1="279.5" x2="133.25" y2="279.5" stroke="#fa3032" stroke-width="1.3" />
<line x1="146.875" y1="245.20000000000002" x2="146.875" y2="258.6" stroke="#fa3032" stroke-width="1.3" />
<line x1="143.875" y1="245.20000000000002" x2="149.875" y2="245.20000000000002" stroke="#fa3032" stroke-width="1.3" />
<line x1="143.875" y1="258.6" x2="149.875" y2="258.6" stroke="#fa3032" stroke-width="1.3" />
<line x1="163.5" y1="227.60000000000002" x2="163.5" y2="236.0" stroke="#fa3032" stroke-width="1.3" />
<line x1="160.5" y1="227.60000000000002" x2="166.5" y2="227.60000000000002" stroke="#fa3032" stroke-width="1.3" />
<line x1="160.5" y1="236.0" x2="166.5" y2="236.0" stroke="#fa3032" stroke-width="1.3" />
<line x1="180.125" y1="213.3" x2="180.125" y2="218.3" stroke="#fa3032" stroke-width="1.3" />
<line x1="177.125" y1="213.3" x2="183.125" y2="213.3" stroke="#fa3032" stroke-width="1.3" />
<line x1="177.125" y1="218.3" x2="183.125" y2="218.3" stroke="#fa3032" stroke-width="1.3" />
<line x1="196.75" y1="201.9" x2="196.75" y2="204.9" stroke="#fa3032" stroke-width="1.3" />
<line x1="193.75" y1="201.9" x2="199.75" y2="201.9" stroke="#fa3032" stroke-width="1.3" />
<line x1="193.75" y1="204.9" x2="199.75" y2="204.9" stroke="#fa3032" stroke-width="1.3" />
<polyline points="30.50,195.50 47.12,204.60 63.75,215.80 80.38,244.40 97.00,273.10 113.62,281.60 130.25,271.00 146.88,251.90 163.50,231.80 180.12,215.80 196.75,203.40" fill="none" stroke="#fa3032" stroke-width="2.0" stroke-linejoin="round" />
<rect x="27.20" y="192.20" width="6.6" height="6.6" fill="#fa3032"/>
<rect x="43.83" y="201.30" width="6.6" height="6.6" fill="#fa3032"/>
<rect x="60.45" y="212.50" width="6.6" height="6.6" fill="#fa3032"/>
<rect x="77.08" y="241.10" width="6.6" height="6.6" fill="#fa3032"/>
<rect x="93.70" y="269.80" width="6.6" height="6.6" fill="#fa3032"/>
<rect x="110.33" y="278.30" width="6.6" height="6.6" fill="#fa3032"/>
<rect x="126.95" y="267.70" width="6.6" height="6.6" fill="#fa3032"/>
<rect x="143.57" y="248.60" width="6.6" height="6.6" fill="#fa3032"/>
<rect x="160.20" y="228.50" width="6.6" height="6.6" fill="#fa3032"/>
<rect x="176.82" y="212.50" width="6.6" height="6.6" fill="#fa3032"/>
<rect x="193.45" y="200.10" width="6.6" height="6.6" fill="#fa3032"/>
<line x1="30.5" y1="198.5" x2="30.5" y2="199.5" stroke="#3a8ff6" stroke-width="1.3" />
<line x1="27.5" y1="198.5" x2="33.5" y2="198.5" stroke="#3a8ff6" stroke-width="1.3" />
<line x1="27.5" y1="199.5" x2="33.5" y2="199.5" stroke="#3a8ff6" stroke-width="1.3" />
<line x1="47.125" y1="202.5" x2="47.125" y2="203.5" stroke="#3a8ff6" stroke-width="1.3" />
<line x1="44.125" y1="202.5" x2="50.125" y2="202.5" stroke="#3a8ff6" stroke-width="1.3" />
<line x1="44.125" y1="203.5" x2="50.125" y2="203.5" stroke="#3a8ff6" stroke-width="1.3" />
<line x1="63.75" y1="210.0" x2="63.75" y2="212.0" stroke="#3a8ff6" stroke-width="1.3" />
<line x1="60.75" y1="210.0" x2="66.75" y2="210.0" stroke="#3a8ff6" stroke-width="1.3" />
<line x1="60.75" y1="212.0" x2="66.75" y2="212.0" stroke="#3a8ff6" stroke-width="1.3" />
<line x1="80.375" y1="222.0" x2="80.375" y2="225.0" stroke="#3a8ff6" stroke-width="1.3" />
<line x1="77.375" y1="222.0" x2="83.375" y2="222.0" stroke="#3a8ff6" stroke-width="1.3" />
<line x1="77.375" y1="225.0" x2="83.375" y2="225.0" stroke="#3a8ff6" stroke-width="1.3" />
<line x1="97.0" y1="234.6" x2="97.0" y2="242.6" stroke="#3a8ff6" stroke-width="1.3" />
<line x1="94.0" y1="234.6" x2="100.0" y2="234.6" stroke="#3a8ff6" stroke-width="1.3" />
<line x1="94.0" y1="242.6" x2="100.0" y2="242.6" stroke="#3a8ff6" stroke-width="1.3" />
<line x1="113.625" y1="238.5" x2="113.625" y2="248.5" stroke="#3a8ff6" stroke-width="1.3" />
<line x1="110.625" y1="238.5" x2="116.625" y2="238.5" stroke="#3a8ff6" stroke-width="1.3" />
<line x1="110.625" y1="248.5" x2="116.625" y2="248.5" stroke="#3a8ff6" stroke-width="1.3" />
<line x1="130.25" y1="233.8" x2="130.25" y2="243.8" stroke="#3a8ff6" stroke-width="1.3" />
<line x1="127.25" y1="233.8" x2="133.25" y2="233.8" stroke="#3a8ff6" stroke-width="1.3" />
<line x1="127.25" y1="243.8" x2="133.25" y2="243.8" stroke="#3a8ff6" stroke-width="1.3" />
<line x1="146.875" y1="225.1" x2="146.875" y2="232.1" stroke="#3a8ff6" stroke-width="1.3" />
<line x1="143.875" y1="225.1" x2="149.875" y2="225.1" stroke="#3a8ff6" stroke-width="1.3" />
<line x1="143.875" y1="232.1" x2="149.875" y2="232.1" stroke="#3a8ff6" stroke-width="1.3" />
<line x1="163.5" y1="215.8" x2="163.5" y2="220.8" stroke="#3a8ff6" stroke-width="1.3" />
<line x1="160.5" y1="215.8" x2="166.5" y2="215.8" stroke="#3a8ff6" stroke-width="1.3" />
<line x1="160.5" y1="220.8" x2="166.5" y2="220.8" stroke="#3a8ff6" stroke-width="1.3" />
<line x1="180.125" y1="201.8" x2="180.125" y2="206.8" stroke="#3a8ff6" stroke-width="1.3" />
<line x1="177.125" y1="201.8" x2="183.125" y2="201.8" stroke="#3a8ff6" stroke-width="1.3" />
<line x1="177.125" y1="206.8" x2="183.125" y2="206.8" stroke="#3a8ff6" stroke-width="1.3" />
<line x1="196.75" y1="193.8" x2="196.75" y2="198.8" stroke="#3a8ff6" stroke-width="1.3" />
<line x1="193.75" y1="193.8" x2="199.75" y2="193.8" stroke="#3a8ff6" stroke-width="1.3" />
<line x1="193.75" y1="198.8" x2="199.75" y2="198.8" stroke="#3a8ff6" stroke-width="1.3" />
<polyline points="30.50,199.00 47.12,203.00 63.75,211.00 80.38,223.50 97.00,238.60 113.62,243.50 130.25,238.80 146.88,228.60 163.50,218.30 180.12,204.30 196.75,196.30" fill="none" stroke="#3a8ff6" stroke-width="2.0" stroke-linejoin="round" />
<circle cx="30.50" cy="199.00" r="3.6" fill="#3a8ff6"/>
<circle cx="47.12" cy="203.00" r="3.6" fill="#3a8ff6"/>
<circle cx="63.75" cy="211.00" r="3.6" fill="#3a8ff6"/>
<circle cx="80.38" cy="223.50" r="3.6" fill="#3a8ff6"/>
<circle cx="97.00" cy="238.60" r="3.6" fill="#3a8ff6"/>
<circle cx="113.62" cy="243.50" r="3.6" fill="#3a8ff6"/>
<circle cx="130.25" cy="238.80" r="3.6" fill="#3a8ff6"/>
<circle cx="146.88" cy="228.60" r="3.6" fill="#3a8ff6"/>
<circle cx="163.50" cy="218.30" r="3.6" fill="#3a8ff6"/>
<circle cx="180.12" cy="204.30" r="3.6" fill="#3a8ff6"/>
<circle cx="196.75" cy="196.30" r="3.6" fill="#3a8ff6"/>
<line x1="30.5" y1="200.7" x2="30.5" y2="201.7" stroke="#000000" stroke-width="1.3" />
<line x1="27.5" y1="200.7" x2="33.5" y2="200.7" stroke="#000000" stroke-width="1.3" />
<line x1="27.5" y1="201.7" x2="33.5" y2="201.7" stroke="#000000" stroke-width="1.3" />
<line x1="47.125" y1="201.4" x2="47.125" y2="202.4" stroke="#000000" stroke-width="1.3" />
<line x1="44.125" y1="201.4" x2="50.125" y2="201.4" stroke="#000000" stroke-width="1.3" />
<line x1="44.125" y1="202.4" x2="50.125" y2="202.4" stroke="#000000" stroke-width="1.3" />
<line x1="63.75" y1="207.6" x2="63.75" y2="209.6" stroke="#000000" stroke-width="1.3" />
<line x1="60.75" y1="207.6" x2="66.75" y2="207.6" stroke="#000000" stroke-width="1.3" />
<line x1="60.75" y1="209.6" x2="66.75" y2="209.6" stroke="#000000" stroke-width="1.3" />
<line x1="80.375" y1="219.3" x2="80.375" y2="222.3" stroke="#000000" stroke-width="1.3" />
<line x1="77.375" y1="219.3" x2="83.375" y2="219.3" stroke="#000000" stroke-width="1.3" />
<line x1="77.375" y1="222.3" x2="83.375" y2="222.3" stroke="#000000" stroke-width="1.3" />
<line x1="97.0" y1="231.3" x2="97.0" y2="239.3" stroke="#000000" stroke-width="1.3" />
<line x1="94.0" y1="231.3" x2="100.0" y2="231.3" stroke="#000000" stroke-width="1.3" />
<line x1="94.0" y1="239.3" x2="100.0" y2="239.3" stroke="#000000" stroke-width="1.3" />
<line x1="113.625" y1="233.2" x2="113.625" y2="243.2" stroke="#000000" stroke-width="1.3" />
<line x1="110.625" y1="233.2" x2="116.625" y2="233.2" stroke="#000000" stroke-width="1.3" />
<line x1="110.625" y1="243.2" x2="116.625" y2="243.2" stroke="#000000" stroke-width="1.3" />
<line x1="130.25" y1="228.4" x2="130.25" y2="237.4" stroke="#000000" stroke-width="1.3" />
<line x1="127.25" y1="228.4" x2="133.25" y2="228.4" stroke="#000000" stroke-width="1.3" />
<line x1="127.25" y1="237.4" x2="133.25" y2="237.4" stroke="#000000" stroke-width="1.3" />
<line x1="146.875" y1="221.2" x2="146.875" y2="226.2" stroke="#000000" stroke-width="1.3" />
<line x1="143.875" y1="221.2" x2="149.875" y2="221.2" stroke="#000000" stroke-width="1.3" />
<line x1="143.875" y1="226.2" x2="149.875" y2="226.2" stroke="#000000" stroke-width="1.3" />
<line x1="163.5" y1="212.8" x2="163.5" y2="216.8" stroke="#000000" stroke-width="1.3" />
<line x1="160.5" y1="212.8" x2="166.5" y2="212.8" stroke="#000000" stroke-width="1.3" />
<line x1="160.5" y1="216.8" x2="166.5" y2="216.8" stroke="#000000" stroke-width="1.3" />
<line x1="180.125" y1="205.7" x2="180.125" y2="208.7" stroke="#000000" stroke-width="1.3" />
<line x1="177.125" y1="205.7" x2="183.125" y2="205.7" stroke="#000000" stroke-width="1.3" />
<line x1="177.125" y1="208.7" x2="183.125" y2="208.7" stroke="#000000" stroke-width="1.3" />
<line x1="196.75" y1="201.2" x2="196.75" y2="203.2" stroke="#000000" stroke-width="1.3" />
<line x1="193.75" y1="201.2" x2="199.75" y2="201.2" stroke="#000000" stroke-width="1.3" />
<line x1="193.75" y1="203.2" x2="199.75" y2="203.2" stroke="#000000" stroke-width="1.3" />
<polyline points="30.50,201.20 47.12,201.90 63.75,208.60 80.38,220.80 97.00,235.30 113.62,238.20 130.25,232.90 146.88,223.70 163.50,214.80 180.12,207.20 196.75,202.20" fill="none" stroke="#000000" stroke-width="2.0" stroke-linejoin="round" />
<polygon points="26.80,204.53 34.20,204.53 30.50,197.87" fill="#000000"/>
<polygon points="43.42,205.23 50.83,205.23 47.12,198.57" fill="#000000"/>
<polygon points="60.05,211.93 67.45,211.93 63.75,205.27" fill="#000000"/>
<polygon points="76.67,224.13 84.08,224.13 80.38,217.47" fill="#000000"/>
<polygon points="93.30,238.63 100.70,238.63 97.00,231.97" fill="#000000"/>
<polygon points="109.92,241.53 117.33,241.53 113.62,234.87" fill="#000000"/>
<polygon points="126.55,236.23 133.95,236.23 130.25,229.57" fill="#000000"/>
<polygon points="143.18,227.03 150.57,227.03 146.88,220.37" fill="#000000"/>
<polygon points="159.80,218.13 167.20,218.13 163.50,211.47" fill="#000000"/>
<polygon points="176.43,210.53 183.82,210.53 180.12,203.87" fill="#000000"/>
<polygon points="193.05,205.53 200.45,205.53 196.75,198.87" fill="#000000"/>
<polyline points="143.10,294.60 159.50,294.60 159.50,273.10 188.50,273.10 188.50,294.60 203.80,294.60" fill="none" stroke="#222" stroke-width="1.4" stroke-linejoin="round" stroke-linejoin="miter"/>
<line x1="170.1" y1="273.5" x2="170.1" y2="294.5" stroke="#444" stroke-width="1.0" stroke-dasharray="1.5,1.5"/>
<line x1="161" y1="292.4" x2="187" y2="292.4" stroke="#333" stroke-width="1.0" stroke-dasharray="2,1.5"/>
<polyline points="163,290.4 160.6,292.4 163,294.4" fill="none" stroke="#333" stroke-width="1"/>
<polyline points="185,290.4 187.4,292.4 185,294.4" fill="none" stroke="#333" stroke-width="1"/>
<text x="149.6" y="272.8" font-size="5.6" text-anchor="middle" fill="#000" stroke="#000" stroke-width="0.12" font-weight="bold">80 mV</text>
<text x="175.6" y="284.6" font-size="5.6" text-anchor="middle" fill="#000" stroke="#000" stroke-width="0.12" font-weight="bold">&#916; 10 mV</text>
<text x="145" y="293" font-size="5.6" text-anchor="middle" fill="#000" stroke="#000" stroke-width="0.12" font-weight="bold">- 40 mV</text>
<text x="202.2" y="293" font-size="5.6" text-anchor="middle" fill="#000" stroke="#000" stroke-width="0.12" font-weight="bold">- 40 mV</text>
<text x="175.2" y="301.6" font-size="5.6" text-anchor="middle" fill="#000" stroke="#000" stroke-width="0.12" font-weight="bold">250 ms</text>
<line x1="256.7" y1="177.9" x2="256.7" y2="291.0" stroke="#000" stroke-width="1.8" />
<line x1="255.79999999999998" y1="290.3" x2="424.7" y2="290.3" stroke="#000" stroke-width="1.8" />
<line x1="252.7" y1="178.6" x2="256.7" y2="178.6" stroke="#000" stroke-width="1.5" />
<text x="250.8" y="182.1" font-size="9.8" text-anchor="end" fill="#111" stroke="#111" stroke-width="0.22" >0</text>
<line x1="252.7" y1="200.94" x2="256.7" y2="200.94" stroke="#000" stroke-width="1.5" />
<text x="250.8" y="204.44" font-size="9.8" text-anchor="end" fill="#111" stroke="#111" stroke-width="0.22" >-10</text>
<line x1="252.7" y1="223.28" x2="256.7" y2="223.28" stroke="#000" stroke-width="1.5" />
<text x="250.8" y="226.78" font-size="9.8" text-anchor="end" fill="#111" stroke="#111" stroke-width="0.22" >-20</text>
<line x1="252.7" y1="245.62" x2="256.7" y2="245.62" stroke="#000" stroke-width="1.5" />
<text x="250.8" y="249.12" font-size="9.8" text-anchor="end" fill="#111" stroke="#111" stroke-width="0.22" >-30</text>
<line x1="252.7" y1="267.96" x2="256.7" y2="267.96" stroke="#000" stroke-width="1.5" />
<text x="250.8" y="271.46" font-size="9.8" text-anchor="end" fill="#111" stroke="#111" stroke-width="0.22" >-40</text>
<line x1="252.7" y1="290.3" x2="256.7" y2="290.3" stroke="#000" stroke-width="1.5" />
<text x="250.8" y="293.8" font-size="9.8" text-anchor="end" fill="#111" stroke="#111" stroke-width="0.22" >-50</text>
<text transform="translate(227,232.6) rotate(-90)" x="0" y="0" font-size="10.4" text-anchor="middle" dominant-baseline="central" fill="#111" stroke="#111" stroke-width="0.22">Peak current density (pA/pF)</text>
<text x="290" y="304.8" font-size="10.6" text-anchor="middle" fill="#111" stroke="#111" stroke-width="0.22" >CTRL</text>
<text x="340.4" y="305.2" font-size="10.6" text-anchor="middle" fill="#111" stroke="#111" stroke-width="0.22" >DM1-</text>
<text x="340.4" y="316.7" font-size="10.6" text-anchor="middle" fill="#111" stroke="#111" stroke-width="0.22" >300</text>
<text x="390.7" y="305.2" font-size="10.6" text-anchor="middle" fill="#111" stroke="#111" stroke-width="0.22" >DM1-</text>
<text x="390.7" y="316.7" font-size="10.6" text-anchor="middle" fill="#111" stroke="#111" stroke-width="0.22" >1300</text>
<polygon points="384.40,157.40 385.12,159.31 387.16,159.40 385.56,160.68 386.10,162.65 384.40,161.52 382.70,162.65 383.24,160.68 381.64,159.40 383.68,159.31" fill="#111"/>
<polygon points="390.60,157.40 391.32,159.31 393.36,159.40 391.76,160.68 392.30,162.65 390.60,161.52 388.90,162.65 389.44,160.68 387.84,159.40 389.88,159.31" fill="#111"/>
<polygon points="396.80,157.40 397.52,159.31 399.56,159.40 397.96,160.68 398.50,162.65 396.80,161.52 395.10,162.65 395.64,160.68 394.04,159.40 396.08,159.31" fill="#111"/>
<text x="391.0" y="172.2" font-size="8.8" text-anchor="middle" fill="#111" stroke="#111" stroke-width="0.22" font-style="italic" font-weight="bold">##</text>
<polygon points="273.15,197.06 279.05,197.06 276.10,191.75" fill="#000000"/>
<polygon points="273.15,204.56 279.05,204.56 276.10,199.25" fill="#000000"/>
<polygon points="273.15,207.66 279.05,207.66 276.10,202.34" fill="#000000"/>
<polygon points="273.15,210.85 279.05,210.85 276.10,205.54" fill="#000000"/>
<polygon points="273.15,217.46 279.05,217.46 276.10,212.15" fill="#000000"/>
<polygon points="282.55,188.35 288.45,188.35 285.50,183.04" fill="#000000"/>
<polygon points="282.55,193.96 288.45,193.96 285.50,188.65" fill="#000000"/>
<polygon points="282.55,200.25 288.45,200.25 285.50,194.94" fill="#000000"/>
<polygon points="282.55,205.85 288.45,205.85 285.50,200.54" fill="#000000"/>
<polygon points="282.55,213.75 288.45,213.75 285.50,208.44" fill="#000000"/>
<polygon points="282.55,223.35 288.45,223.35 285.50,218.04" fill="#000000"/>
<polygon points="282.55,234.66 288.45,234.66 285.50,229.34" fill="#000000"/>
<polygon points="291.65,186.46 297.55,186.46 294.60,181.15" fill="#000000"/>
<polygon points="291.65,203.96 297.55,203.96 294.60,198.65" fill="#000000"/>
<polygon points="291.65,215.85 297.55,215.85 294.60,210.54" fill="#000000"/>
<polygon points="291.65,222.16 297.55,222.16 294.60,216.84" fill="#000000"/>
<polygon points="291.65,232.16 297.55,232.16 294.60,226.84" fill="#000000"/>
<polygon points="301.15,192.46 307.05,192.46 304.10,187.15" fill="#000000"/>
<polygon points="301.15,200.25 307.05,200.25 304.10,194.94" fill="#000000"/>
<polygon points="301.15,208.35 307.05,208.35 304.10,203.04" fill="#000000"/>
<polygon points="301.15,214.96 307.05,214.96 304.10,209.65" fill="#000000"/>
<line x1="273.6" y1="205.1" x2="306.2" y2="205.1" stroke="#000" stroke-width="2.2" />
<line x1="282" y1="202" x2="298" y2="202" stroke="#000" stroke-width="1.5" />
<line x1="282" y1="208.6" x2="298" y2="208.6" stroke="#000" stroke-width="1.5" />
<line x1="290" y1="202" x2="290" y2="208.6" stroke="#000" stroke-width="1.5" />
<circle cx="339.90" cy="184.20" r="3.2" fill="#3a8ff6"/>
<circle cx="339.90" cy="195.20" r="3.2" fill="#3a8ff6"/>
<circle cx="326.50" cy="210.30" r="3.2" fill="#3a8ff6"/>
<circle cx="335.20" cy="215.20" r="3.2" fill="#3a8ff6"/>
<circle cx="344.90" cy="218.40" r="3.2" fill="#3a8ff6"/>
<circle cx="354.40" cy="205.70" r="3.2" fill="#3a8ff6"/>
<circle cx="354.40" cy="213.40" r="3.2" fill="#3a8ff6"/>
<circle cx="339.90" cy="240.40" r="3.2" fill="#3a8ff6"/>
<circle cx="335.00" cy="206.00" r="3.2" fill="#3a8ff6"/>
<circle cx="345.00" cy="206.00" r="3.2" fill="#3a8ff6"/>
<line x1="326.5" y1="210.3" x2="354.4" y2="210.3" stroke="#3a8ff6" stroke-width="2.0" />
<line x1="332.5" y1="204.9" x2="348" y2="204.9" stroke="#3a8ff6" stroke-width="1.5" />
<line x1="332.5" y1="214.5" x2="348" y2="214.5" stroke="#3a8ff6" stroke-width="1.5" />
<line x1="340.2" y1="204.9" x2="340.2" y2="214.5" stroke="#3a8ff6" stroke-width="1.5" />
<rect x="382.05" y="185.95" width="5.7" height="5.7" fill="#fa3032"/>
<rect x="393.35" y="185.95" width="5.7" height="5.7" fill="#fa3032"/>
<rect x="387.65" y="204.95" width="5.7" height="5.7" fill="#fa3032"/>
<rect x="382.05" y="212.65" width="5.7" height="5.7" fill="#fa3032"/>
<rect x="393.35" y="210.35" width="5.7" height="5.7" fill="#fa3032"/>
<rect x="376.45" y="221.35" width="5.7" height="5.7" fill="#fa3032"/>
<rect x="387.85" y="220.65" width="5.7" height="5.7" fill="#fa3032"/>
<rect x="399.15" y="224.15" width="5.7" height="5.7" fill="#fa3032"/>
<rect x="387.85" y="230.65" width="5.7" height="5.7" fill="#fa3032"/>
<rect x="387.85" y="236.05" width="5.7" height="5.7" fill="#fa3032"/>
<rect x="382.15" y="243.75" width="5.7" height="5.7" fill="#fa3032"/>
<rect x="393.45" y="243.75" width="5.7" height="5.7" fill="#fa3032"/>
<rect x="387.85" y="252.95" width="5.7" height="5.7" fill="#fa3032"/>
<rect x="387.85" y="262.25" width="5.7" height="5.7" fill="#fa3032"/>
<rect x="387.85" y="274.15" width="5.7" height="5.7" fill="#fa3032"/>
<rect x="382.15" y="281.15" width="5.7" height="5.7" fill="#fa3032"/>
<rect x="393.45" y="279.95" width="5.7" height="5.7" fill="#fa3032"/>
<line x1="374.2" y1="236.6" x2="407.4" y2="236.6" stroke="#fa3032" stroke-width="2.0" />
<line x1="382.7" y1="229.2" x2="398.1" y2="229.2" stroke="#fa3032" stroke-width="1.5" />
<line x1="382.7" y1="242.4" x2="398.1" y2="242.4" stroke="#fa3032" stroke-width="1.5" />
<line x1="390.7" y1="229.2" x2="390.7" y2="242.4" stroke="#fa3032" stroke-width="1.5" />
<polyline points="299.20,118.80 312.20,118.80" fill="none" stroke="#000000" stroke-width="1.6" stroke-linejoin="round" />
<polygon points="301.30,122.25 310.30,122.25 305.80,114.15" fill="#000000"/>
<polyline points="299.20,132.90 312.20,132.90" fill="none" stroke="#3a8ff6" stroke-width="1.6" stroke-linejoin="round" />
<circle cx="305.80" cy="132.90" r="5.6" fill="#3a8ff6"/>
<polyline points="299.20,147.40 312.20,147.40" fill="none" stroke="#fa3032" stroke-width="1.6" stroke-linejoin="round" />
<rect x="300.70" y="142.30" width="10.2" height="10.2" fill="#fa3032"/>
<text x="319.6" y="121.0" font-size="9.6" text-anchor="start" fill="#111" stroke="#111" stroke-width="0.22" >CTRL</text>
<text x="319.6" y="135.6" font-size="9.6" text-anchor="start" fill="#111" stroke="#111" stroke-width="0.22" >DM1-300</text>
<text x="319.6" y="150.1" font-size="9.6" text-anchor="start" fill="#111" stroke="#111" stroke-width="0.22" >DM1-1300</text>
<line x1="480.0" y1="166.9" x2="480.0" y2="288.1" stroke="#000" stroke-width="1.8" />
<line x1="479.1" y1="287.3" x2="659.5" y2="287.3" stroke="#000" stroke-width="1.8" />
<line x1="476.4" y1="287.3" x2="480.0" y2="287.3" stroke="#000" stroke-width="1.5" />
<text x="474.5" y="291.2" font-size="11.0" text-anchor="end" fill="#111" stroke="#111" stroke-width="0.22" >0.0</text>
<line x1="476.4" y1="265.48" x2="480.0" y2="265.48" stroke="#000" stroke-width="1.5" />
<text x="474.5" y="269.38" font-size="11.0" text-anchor="end" fill="#111" stroke="#111" stroke-width="0.22" >0.2</text>
<line x1="476.4" y1="243.66000000000003" x2="480.0" y2="243.66000000000003" stroke="#000" stroke-width="1.5" />
<text x="474.5" y="247.56000000000003" font-size="11.0" text-anchor="end" fill="#111" stroke="#111" stroke-width="0.22" >0.4</text>
<line x1="476.4" y1="221.84" x2="480.0" y2="221.84" stroke="#000" stroke-width="1.5" />
<text x="474.5" y="225.74" font-size="11.0" text-anchor="end" fill="#111" stroke="#111" stroke-width="0.22" >0.6</text>
<line x1="476.4" y1="200.02" x2="480.0" y2="200.02" stroke="#000" stroke-width="1.5" />
<text x="474.5" y="203.92000000000002" font-size="11.0" text-anchor="end" fill="#111" stroke="#111" stroke-width="0.22" >0.8</text>
<line x1="476.4" y1="178.20000000000002" x2="480.0" y2="178.20000000000002" stroke="#000" stroke-width="1.5" />
<text x="474.5" y="182.10000000000002" font-size="11.0" text-anchor="end" fill="#111" stroke="#111" stroke-width="0.22" >1.0</text>
<line x1="480.0" y1="287.3" x2="480.0" y2="290.8" stroke="#000" stroke-width="1.5" />
<line x1="497.78" y1="287.3" x2="497.78" y2="290.8" stroke="#000" stroke-width="1.5" />
<line x1="515.56" y1="287.3" x2="515.56" y2="290.8" stroke="#000" stroke-width="1.5" />
<line x1="533.34" y1="287.3" x2="533.34" y2="290.8" stroke="#000" stroke-width="1.5" />
<line x1="551.12" y1="287.3" x2="551.12" y2="290.8" stroke="#000" stroke-width="1.5" />
<line x1="568.9" y1="287.3" x2="568.9" y2="290.8" stroke="#000" stroke-width="1.5" />
<line x1="586.6800000000001" y1="287.3" x2="586.6800000000001" y2="290.8" stroke="#000" stroke-width="1.5" />
<line x1="604.46" y1="287.3" x2="604.46" y2="290.8" stroke="#000" stroke-width="1.5" />
<line x1="622.24" y1="287.3" x2="622.24" y2="290.8" stroke="#000" stroke-width="1.5" />
<line x1="640.02" y1="287.3" x2="640.02" y2="290.8" stroke="#000" stroke-width="1.5" />
<line x1="657.8" y1="287.3" x2="657.8" y2="290.8" stroke="#000" stroke-width="1.5" />
<text x="480.3" y="302.2" font-size="11.2" text-anchor="middle" fill="#111" stroke="#111" stroke-width="0.22" >-60</text>
<text x="515.8599999999999" y="302.2" font-size="11.2" text-anchor="middle" fill="#111" stroke="#111" stroke-width="0.22" >-40</text>
<text x="551.42" y="302.2" font-size="11.2" text-anchor="middle" fill="#111" stroke="#111" stroke-width="0.22" >-20</text>
<text x="586.98" y="302.2" font-size="11.2" text-anchor="middle" fill="#111" stroke="#111" stroke-width="0.22" >0</text>
<text x="622.54" y="302.2" font-size="11.2" text-anchor="middle" fill="#111" stroke="#111" stroke-width="0.22" >20</text>
<text x="658.0999999999999" y="302.2" font-size="11.2" text-anchor="middle" fill="#111" stroke="#111" stroke-width="0.22" >40</text>
<text x="569.6" y="318.9" font-size="11.1" text-anchor="middle" fill="#111" stroke="#111" stroke-width="0.22" >Voltage (mV)</text>
<text transform="translate(445.2,224.8) rotate(-90)" x="0" y="0" font-size="11.1" text-anchor="middle" dominant-baseline="central" fill="#111" stroke="#111" stroke-width="0.22">Normalized Current</text>
<polyline points="515.56,286.35 516.45,286.28 517.34,286.21 518.23,286.13 519.12,286.05 520.00,285.96 520.89,285.87 521.78,285.77 522.67,285.66 523.56,285.54 524.45,285.42 525.34,285.28 526.23,285.14 527.12,284.99 528.01,284.83 528.89,284.65 529.78,284.47 530.67,284.27 531.56,284.06 532.45,283.83 533.34,283.59 534.23,283.34 535.12,283.06 536.01,282.77 536.90,282.46 537.78,282.13 538.67,281.77 539.56,281.40 540.45,281.00 541.34,280.57 542.23,280.12 543.12,279.64 544.01,279.13 544.90,278.59 545.79,278.02 546.67,277.41 547.56,276.77 548.45,276.09 549.34,275.37 550.23,274.61 551.12,273.81 552.01,272.97 552.90,272.08 553.79,271.15 554.68,270.17 555.57,269.14 556.45,268.07 557.34,266.94 558.23,265.77 559.12,264.54 560.01,263.26 560.90,261.94 561.79,260.56 562.68,259.13 563.57,257.66 564.46,256.14 565.34,254.57 566.23,252.96 567.12,251.30 568.01,249.61 568.90,247.88 569.79,246.11 570.68,244.32 571.57,242.49 572.46,240.65 573.35,238.79 574.23,236.91 575.12,235.02 576.01,233.13 576.90,231.24 577.79,229.35 578.68,227.46 579.57,225.59 580.46,223.74 581.35,221.91 582.24,220.10 583.12,218.33 584.01,216.58 584.90,214.87 585.79,213.20 586.68,211.57 587.57,209.99 588.46,208.44 589.35,206.95 590.24,205.50 591.12,204.11 592.01,202.76 592.90,201.46 593.79,200.22 594.68,199.02 595.57,197.88 596.46,196.78 597.35,195.74 598.24,194.74 599.13,193.79 600.01,192.88 600.90,192.02 601.79,191.21 602.68,190.43 603.57,189.70 604.46,189.00 605.35,188.34 606.24,187.72 607.13,187.14 608.02,186.58 608.90,186.06 609.79,185.57 610.68,185.11 611.57,184.67 612.46,184.26 613.35,183.87 614.24,183.51 615.13,183.17 616.02,182.85 616.91,182.55 617.80,182.27 618.68,182.01 619.57,181.76 620.46,181.53 621.35,181.31 622.24,181.11 623.13,180.92 624.02,180.74 624.91,180.57 625.80,180.42 626.68,180.27 627.57,180.14 628.46,180.01 629.35,179.89 630.24,179.78 631.13,179.67 632.02,179.58 632.91,179.48 633.80,179.40 634.69,179.32 635.58,179.24 636.46,179.18 637.35,179.11 638.24,179.05 639.13,178.99 640.02,178.94" fill="none" stroke="#3a8ff6" stroke-width="2.2" stroke-linejoin="round" />
<polyline points="515.56,286.54 516.45,286.48 517.34,286.43 518.23,286.36 519.12,286.30 520.00,286.23 520.89,286.15 521.78,286.07 522.67,285.98 523.56,285.89 524.45,285.79 525.34,285.68 526.23,285.56 527.12,285.44 528.01,285.31 528.89,285.17 529.78,285.02 530.67,284.86 531.56,284.69 532.45,284.51 533.34,284.31 534.23,284.10 535.12,283.88 536.01,283.64 536.90,283.39 537.78,283.12 538.67,282.83 539.56,282.52 540.45,282.19 541.34,281.85 542.23,281.47 543.12,281.08 544.01,280.66 544.90,280.21 545.79,279.74 546.67,279.23 547.56,278.70 548.45,278.13 549.34,277.53 550.23,276.90 551.12,276.23 552.01,275.51 552.90,274.76 553.79,273.97 554.68,273.14 555.57,272.26 556.45,271.34 557.34,270.37 558.23,269.35 559.12,268.29 560.01,267.17 560.90,266.01 561.79,264.79 562.68,263.52 563.57,262.21 564.46,260.84 565.34,259.42 566.23,257.96 567.12,256.45 568.01,254.89 568.90,253.28 569.79,251.63 570.68,249.95 571.57,248.22 572.46,246.47 573.35,244.68 574.23,242.86 575.12,241.02 576.01,239.16 576.90,237.29 577.79,235.40 578.68,233.51 579.57,231.61 580.46,229.72 581.35,227.84 582.24,225.97 583.12,224.11 584.01,222.27 584.90,220.46 585.79,218.68 586.68,216.93 587.57,215.21 588.46,213.53 589.35,211.89 590.24,210.30 591.12,208.75 592.01,207.24 592.90,205.79 593.79,204.38 594.68,203.03 595.57,201.72 596.46,200.46 597.35,199.26 598.24,198.10 599.13,197.00 600.01,195.94 600.90,194.93 601.79,193.97 602.68,193.06 603.57,192.19 604.46,191.36 605.35,190.58 606.24,189.84 607.13,189.14 608.02,188.47 608.90,187.84 609.79,187.25 610.68,186.69 611.57,186.16 612.46,185.67 613.35,185.20 614.24,184.76 615.13,184.34 616.02,183.95 616.91,183.58 617.80,183.24 618.68,182.92 619.57,182.61 620.46,182.33 621.35,182.06 622.24,181.81 623.13,181.58 624.02,181.36 624.91,181.15 625.80,180.96 626.68,180.78 627.57,180.61 628.46,180.45 629.35,180.30 630.24,180.16 631.13,180.03 632.02,179.91 632.91,179.80 633.80,179.69 634.69,179.59 635.58,179.50 636.46,179.42 637.35,179.33 638.24,179.26 639.13,179.19 640.02,179.12" fill="none" stroke="#fa3032" stroke-width="2.2" stroke-linejoin="round" />
<polyline points="515.56,286.46 516.45,286.40 517.34,286.34 518.23,286.27 519.12,286.20 520.00,286.12 520.89,286.03 521.78,285.94 522.67,285.85 523.56,285.74 524.45,285.63 525.34,285.52 526.23,285.39 527.12,285.26 528.01,285.11 528.89,284.96 529.78,284.79 530.67,284.62 531.56,284.43 532.45,284.23 533.34,284.01 534.23,283.79 535.12,283.54 536.01,283.28 536.90,283.00 537.78,282.71 538.67,282.39 539.56,282.06 540.45,281.70 541.34,281.32 542.23,280.91 543.12,280.48 544.01,280.03 544.90,279.54 545.79,279.02 546.67,278.48 547.56,277.90 548.45,277.28 549.34,276.63 550.23,275.95 551.12,275.22 552.01,274.45 552.90,273.65 553.79,272.79 554.68,271.90 555.57,270.96 556.45,269.97 557.34,268.93 558.23,267.85 559.12,266.71 560.01,265.53 560.90,264.29 561.79,263.00 562.68,261.67 563.57,260.28 564.46,258.84 565.34,257.36 566.23,255.83 567.12,254.25 568.01,252.63 568.90,250.96 569.79,249.26 570.68,247.52 571.57,245.75 572.46,243.95 573.35,242.13 574.23,240.28 575.12,238.41 576.01,236.53 576.90,234.64 577.79,232.75 578.68,230.86 579.57,228.97 580.46,227.09 581.35,225.22 582.24,223.37 583.12,221.55 584.01,219.75 584.90,217.98 585.79,216.24 586.68,214.54 587.57,212.87 588.46,211.25 589.35,209.67 590.24,208.14 591.12,206.66 592.01,205.22 592.90,203.83 593.79,202.50 594.68,201.21 595.57,199.97 596.46,198.79 597.35,197.65 598.24,196.57 599.13,195.53 600.01,194.54 600.90,193.60 601.79,192.71 602.68,191.85 603.57,191.05 604.46,190.28 605.35,189.55 606.24,188.87 607.13,188.22 608.02,187.60 608.90,187.02 609.79,186.48 610.68,185.96 611.57,185.47 612.46,185.02 613.35,184.59 614.24,184.18 615.13,183.80 616.02,183.44 616.91,183.11 617.80,182.79 618.68,182.50 619.57,182.22 620.46,181.96 621.35,181.71 622.24,181.49 623.13,181.27 624.02,181.07 624.91,180.88 625.80,180.71 626.68,180.54 627.57,180.39 628.46,180.24 629.35,180.11 630.24,179.98 631.13,179.87 632.02,179.76 632.91,179.65 633.80,179.56 634.69,179.47 635.58,179.38 636.46,179.30 637.35,179.23 638.24,179.16 639.13,179.10 640.02,179.04" fill="none" stroke="#000000" stroke-width="2.0" stroke-linejoin="round" />
<polyline points="515.56,183.07 516.45,183.58 517.34,184.14 518.23,184.76 519.12,185.43 520.00,186.16 520.89,186.97 521.78,187.84 522.67,188.80 523.56,189.84 524.45,190.97 525.34,192.19 526.23,193.51 527.12,194.93 528.01,196.46 528.89,198.10 529.78,199.85 530.67,201.72 531.56,203.70 532.45,205.79 533.34,207.99 534.23,210.30 535.12,212.71 536.01,215.21 536.90,217.80 537.78,220.46 538.67,223.19 539.56,225.97 540.45,228.78 541.34,231.61 542.23,234.45 543.12,237.29 544.01,240.09 544.90,242.86 545.79,245.57 546.67,248.22 547.56,250.80 548.45,253.28 549.34,255.67 550.23,257.96 551.12,260.14 552.01,262.21 552.90,264.16 553.79,266.01 554.68,267.73 555.57,269.35 556.45,270.86 557.34,272.26 558.23,273.56 559.12,274.76 560.01,275.87 560.90,276.90 561.79,277.84 562.68,278.70 563.57,279.49 564.46,280.21 565.34,280.87 566.23,281.47 567.12,282.02 568.01,282.52 568.90,282.98 569.79,283.39 570.68,283.76 571.57,284.10 572.46,284.41 573.35,284.69 574.23,284.94 575.12,285.17 576.01,285.38 576.90,285.56 577.79,285.73 578.68,285.89 579.57,286.02 580.46,286.15 581.35,286.26 582.24,286.36 583.12,286.46 584.01,286.54 584.90,286.61 585.79,286.68 586.68,286.74" fill="none" stroke="#3a8ff6" stroke-width="2.0" stroke-linejoin="round" />
<polyline points="515.56,184.22 516.45,184.90 517.34,185.65 518.23,186.48 519.12,187.39 520.00,188.39 520.89,189.49 521.78,190.69 522.67,192.01 523.56,193.44 524.45,194.99 525.34,196.67 526.23,198.48 527.12,200.42 528.01,202.50 528.89,204.71 529.78,207.06 530.67,209.53 531.56,212.13 532.45,214.84 533.34,217.66 534.23,220.56 535.12,223.54 536.01,226.58 536.90,229.65 537.78,232.75 538.67,235.85 539.56,238.92 540.45,241.96 541.34,244.94 542.23,247.84 543.12,250.66 544.01,253.37 544.90,255.97 545.79,258.44 546.67,260.79 547.56,263.00 548.45,265.08 549.34,267.02 550.23,268.83 551.12,270.51 552.01,272.06 552.90,273.49 553.79,274.81 554.68,276.01 555.57,277.11 556.45,278.11 557.34,279.02 558.23,279.85 559.12,280.60 560.01,281.28 560.90,281.90 561.79,282.45 562.68,282.95 563.57,283.40 564.46,283.81 565.34,284.17 566.23,284.50 567.12,284.79 568.01,285.06 568.90,285.29 569.79,285.51 570.68,285.70 571.57,285.87 572.46,286.02 573.35,286.15 574.23,286.28 575.12,286.39 576.01,286.48 576.90,286.57 577.79,286.65 578.68,286.72 579.57,286.78 580.46,286.84 581.35,286.89 582.24,286.93 583.12,286.97 584.01,287.00 584.90,287.04 585.79,287.06 586.68,287.09" fill="none" stroke="#fa3032" stroke-width="2.0" stroke-linejoin="round" />
<polyline points="515.56,189.08 516.45,190.56 517.34,192.22 518.23,194.06 519.12,196.10 520.00,198.34 520.89,200.79 521.78,203.45 522.67,206.33 523.56,209.42 524.45,212.69 525.34,216.15 526.23,219.76 527.12,223.49 528.01,227.31 528.89,231.19 529.78,235.09 530.67,238.96 531.56,242.77 532.45,246.48 533.34,250.06 534.23,253.48 535.12,256.72 536.01,259.76 536.90,262.60 537.78,265.22 538.67,267.63 539.56,269.83 540.45,271.82 541.34,273.63 542.23,275.25 543.12,276.69 544.01,277.99 544.90,279.13 545.79,280.15 546.67,281.05 547.56,281.84 548.45,282.53 549.34,283.14 550.23,283.68 551.12,284.15 552.01,284.56 552.90,284.91 553.79,285.22 554.68,285.50 555.57,285.73 556.45,285.94 557.34,286.12 558.23,286.27 559.12,286.41 560.01,286.53 560.90,286.63 561.79,286.72 562.68,286.80 563.57,286.86 564.46,286.92 565.34,286.97 566.23,287.01 567.12,287.05 568.01,287.09 568.90,287.11 569.79,287.14 570.68,287.16 571.57,287.18 572.46,287.19 573.35,287.21 574.23,287.22 575.12,287.23 576.01,287.24 576.90,287.25 577.79,287.26 578.68,287.26 579.57,287.27 580.46,287.27 581.35,287.27 582.24,287.28 583.12,287.28 584.01,287.28 584.90,287.29 585.79,287.29 586.68,287.29" fill="none" stroke="#000000" stroke-width="2.0" stroke-linejoin="round" />
<circle cx="515.56" cy="281.85" r="3.6" fill="#3a8ff6"/>
<line x1="533.34" y1="275.572" x2="533.34" y2="281.572" stroke="#3a8ff6" stroke-width="1.2" />
<line x1="530.84" y1="275.572" x2="535.84" y2="275.572" stroke="#3a8ff6" stroke-width="1.2" />
<line x1="530.84" y1="281.572" x2="535.84" y2="281.572" stroke="#3a8ff6" stroke-width="1.2" />
<circle cx="533.34" cy="278.57" r="3.6" fill="#3a8ff6"/>
<line x1="551.12" y1="266.844" x2="551.12" y2="272.844" stroke="#3a8ff6" stroke-width="1.2" />
<line x1="548.62" y1="266.844" x2="553.62" y2="266.844" stroke="#3a8ff6" stroke-width="1.2" />
<line x1="548.62" y1="272.844" x2="553.62" y2="272.844" stroke="#3a8ff6" stroke-width="1.2" />
<circle cx="551.12" cy="269.84" r="3.6" fill="#3a8ff6"/>
<line x1="568.9" y1="242.842" x2="568.9" y2="248.842" stroke="#3a8ff6" stroke-width="1.2" />
<line x1="566.4" y1="242.842" x2="571.4" y2="242.842" stroke="#3a8ff6" stroke-width="1.2" />
<line x1="566.4" y1="248.842" x2="571.4" y2="248.842" stroke="#3a8ff6" stroke-width="1.2" />
<circle cx="568.90" cy="245.84" r="3.6" fill="#3a8ff6"/>
<line x1="586.6800000000001" y1="207.93" x2="586.6800000000001" y2="213.93" stroke="#3a8ff6" stroke-width="1.2" />
<line x1="584.1800000000001" y1="207.93" x2="589.1800000000001" y2="207.93" stroke="#3a8ff6" stroke-width="1.2" />
<line x1="584.1800000000001" y1="213.93" x2="589.1800000000001" y2="213.93" stroke="#3a8ff6" stroke-width="1.2" />
<circle cx="586.68" cy="210.93" r="3.6" fill="#3a8ff6"/>
<circle cx="604.46" cy="191.29" r="3.6" fill="#3a8ff6"/>
<circle cx="622.24" cy="179.29" r="3.6" fill="#3a8ff6"/>
<circle cx="640.02" cy="179.29" r="3.6" fill="#3a8ff6"/>
<rect x="512.16" y="281.94" width="6.8" height="6.8" fill="#fa3032"/>
<line x1="533.34" y1="278.845" x2="533.34" y2="284.845" stroke="#fa3032" stroke-width="1.2" />
<line x1="530.84" y1="278.845" x2="535.84" y2="278.845" stroke="#fa3032" stroke-width="1.2" />
<line x1="530.84" y1="284.845" x2="535.84" y2="284.845" stroke="#fa3032" stroke-width="1.2" />
<rect x="529.94" y="278.45" width="6.8" height="6.8" fill="#fa3032"/>
<line x1="551.12" y1="269.026" x2="551.12" y2="275.026" stroke="#fa3032" stroke-width="1.2" />
<line x1="548.62" y1="269.026" x2="553.62" y2="269.026" stroke="#fa3032" stroke-width="1.2" />
<line x1="548.62" y1="275.026" x2="553.62" y2="275.026" stroke="#fa3032" stroke-width="1.2" />
<rect x="547.72" y="268.63" width="6.8" height="6.8" fill="#fa3032"/>
<line x1="568.9" y1="245.024" x2="568.9" y2="251.024" stroke="#fa3032" stroke-width="1.2" />
<line x1="566.4" y1="245.024" x2="571.4" y2="245.024" stroke="#fa3032" stroke-width="1.2" />
<line x1="566.4" y1="251.024" x2="571.4" y2="251.024" stroke="#fa3032" stroke-width="1.2" />
<rect x="565.50" y="244.62" width="6.8" height="6.8" fill="#fa3032"/>
<line x1="586.6800000000001" y1="212.294" x2="586.6800000000001" y2="218.294" stroke="#fa3032" stroke-width="1.2" />
<line x1="584.1800000000001" y1="212.294" x2="589.1800000000001" y2="212.294" stroke="#fa3032" stroke-width="1.2" />
<line x1="584.1800000000001" y1="218.294" x2="589.1800000000001" y2="218.294" stroke="#fa3032" stroke-width="1.2" />
<rect x="583.28" y="211.89" width="6.8" height="6.8" fill="#fa3032"/>
<rect x="601.06" y="187.89" width="6.8" height="6.8" fill="#fa3032"/>
<rect x="618.84" y="175.89" width="6.8" height="6.8" fill="#fa3032"/>
<rect x="636.62" y="175.89" width="6.8" height="6.8" fill="#fa3032"/>
<rect x="512.36" y="175.00" width="6.4" height="6.4" fill="#fa3032"/>
<line x1="524.45" y1="189.27400000000003" x2="524.45" y2="197.674" stroke="#fa3032" stroke-width="1.3" />
<line x1="521.6500000000001" y1="189.27400000000003" x2="527.25" y2="189.27400000000003" stroke="#fa3032" stroke-width="1.3" />
<line x1="521.6500000000001" y1="197.674" x2="527.25" y2="197.674" stroke="#fa3032" stroke-width="1.3" />
<rect x="521.25" y="190.27" width="6.4" height="6.4" fill="#fa3032"/>
<line x1="533.34" y1="215.45800000000003" x2="533.34" y2="223.858" stroke="#fa3032" stroke-width="1.3" />
<line x1="530.5400000000001" y1="215.45800000000003" x2="536.14" y2="215.45800000000003" stroke="#fa3032" stroke-width="1.3" />
<line x1="530.5400000000001" y1="223.858" x2="536.14" y2="223.858" stroke="#fa3032" stroke-width="1.3" />
<rect x="530.14" y="216.46" width="6.4" height="6.4" fill="#fa3032"/>
<line x1="542.23" y1="244.91500000000002" x2="542.23" y2="253.315" stroke="#fa3032" stroke-width="1.3" />
<line x1="539.4300000000001" y1="244.91500000000002" x2="545.03" y2="244.91500000000002" stroke="#fa3032" stroke-width="1.3" />
<line x1="539.4300000000001" y1="253.315" x2="545.03" y2="253.315" stroke="#fa3032" stroke-width="1.3" />
<rect x="539.03" y="245.92" width="6.4" height="6.4" fill="#fa3032"/>
<line x1="551.12" y1="267.826" x2="551.12" y2="276.226" stroke="#fa3032" stroke-width="1.3" />
<line x1="548.32" y1="267.826" x2="553.92" y2="267.826" stroke="#fa3032" stroke-width="1.3" />
<line x1="548.32" y1="276.226" x2="553.92" y2="276.226" stroke="#fa3032" stroke-width="1.3" />
<rect x="547.92" y="268.83" width="6.4" height="6.4" fill="#fa3032"/>
<rect x="556.81" y="280.83" width="6.4" height="6.4" fill="#fa3032"/>
<rect x="565.70" y="283.55" width="6.4" height="6.4" fill="#fa3032"/>
<rect x="574.59" y="284.10" width="6.4" height="6.4" fill="#fa3032"/>
<rect x="583.48" y="284.10" width="6.4" height="6.4" fill="#fa3032"/>
<circle cx="515.56" cy="178.20" r="3.5" fill="#3a8ff6"/>
<line x1="524.45" y1="187.883" x2="524.45" y2="196.883" stroke="#3a8ff6" stroke-width="1.3" />
<line x1="521.6500000000001" y1="187.883" x2="527.25" y2="187.883" stroke="#3a8ff6" stroke-width="1.3" />
<line x1="521.6500000000001" y1="196.883" x2="527.25" y2="196.883" stroke="#3a8ff6" stroke-width="1.3" />
<circle cx="524.45" cy="192.38" r="3.5" fill="#3a8ff6"/>
<line x1="533.34" y1="205.339" x2="533.34" y2="214.339" stroke="#3a8ff6" stroke-width="1.3" />
<line x1="530.5400000000001" y1="205.339" x2="536.14" y2="205.339" stroke="#3a8ff6" stroke-width="1.3" />
<line x1="530.5400000000001" y1="214.339" x2="536.14" y2="214.339" stroke="#3a8ff6" stroke-width="1.3" />
<circle cx="533.34" cy="209.84" r="3.5" fill="#3a8ff6"/>
<line x1="542.23" y1="233.1595" x2="542.23" y2="242.1595" stroke="#3a8ff6" stroke-width="1.3" />
<line x1="539.4300000000001" y1="233.1595" x2="545.03" y2="233.1595" stroke="#3a8ff6" stroke-width="1.3" />
<line x1="539.4300000000001" y1="242.1595" x2="545.03" y2="242.1595" stroke="#3a8ff6" stroke-width="1.3" />
<circle cx="542.23" cy="237.66" r="3.5" fill="#3a8ff6"/>
<line x1="551.12" y1="259.889" x2="551.12" y2="268.889" stroke="#3a8ff6" stroke-width="1.3" />
<line x1="548.32" y1="259.889" x2="553.92" y2="259.889" stroke="#3a8ff6" stroke-width="1.3" />
<line x1="548.32" y1="268.889" x2="553.92" y2="268.889" stroke="#3a8ff6" stroke-width="1.3" />
<circle cx="551.12" cy="264.39" r="3.5" fill="#3a8ff6"/>
<line x1="560.01" y1="274.072" x2="560.01" y2="283.072" stroke="#3a8ff6" stroke-width="1.3" />
<line x1="557.21" y1="274.072" x2="562.81" y2="274.072" stroke="#3a8ff6" stroke-width="1.3" />
<line x1="557.21" y1="283.072" x2="562.81" y2="283.072" stroke="#3a8ff6" stroke-width="1.3" />
<circle cx="560.01" cy="278.57" r="3.5" fill="#3a8ff6"/>
<circle cx="568.90" cy="282.94" r="3.5" fill="#3a8ff6"/>
<circle cx="577.79" cy="284.03" r="3.5" fill="#3a8ff6"/>
<circle cx="586.68" cy="284.03" r="3.5" fill="#3a8ff6"/>
<polygon points="512.36,181.08 518.76,181.08 515.56,175.32" fill="#000000"/>
<polygon points="521.25,216.54 527.65,216.54 524.45,210.78" fill="#000000"/>
<polygon points="530.14,252.00 536.54,252.00 533.34,246.24" fill="#000000"/>
<polygon points="539.03,274.91 545.43,274.91 542.23,269.15" fill="#000000"/>
<polygon points="547.92,284.73 554.32,284.73 551.12,278.97" fill="#000000"/>
<polygon points="556.81,289.09 563.21,289.09 560.01,283.33" fill="#000000"/>
<polygon points="565.70,290.18 572.10,290.18 568.90,284.42" fill="#000000"/>
<polygon points="574.59,290.18 580.99,290.18 577.79,284.42" fill="#000000"/>
<polygon points="583.48,290.18 589.88,290.18 586.68,284.42" fill="#000000"/>
<polyline points="482.20,241.40 511.40,241.40 511.40,245.40 518.30,245.40 518.30,261.20 528.80,261.20" fill="none" stroke="#222" stroke-width="1.3" stroke-linejoin="round" stroke-linejoin="miter"/>
<line x1="511.4" y1="241.4" x2="511.4" y2="261.2" stroke="#333" stroke-width="1.2" />
<line x1="482.2" y1="261.2" x2="511.4" y2="261.2" stroke="#333" stroke-width="1.2" />
<line x1="485.4" y1="241.8" x2="485.4" y2="260.8" stroke="#444" stroke-width="1.0" stroke-dasharray="1.6,1.4"/>
<line x1="485" y1="269.2" x2="510" y2="269.2" stroke="#333" stroke-width="1.0" stroke-dasharray="2,1.5"/>
<polyline points="485.2,267.2 482.8,269.2 485.2,271.2" fill="none" stroke="#333" stroke-width="1"/>
<polyline points="509.6,267.2 512,269.2 509.6,271.2" fill="none" stroke="#333" stroke-width="1"/>
<line x1="512.5" y1="258.6" x2="517.3" y2="258.6" stroke="#333" stroke-width="0.9" />
<text x="497.9" y="239.7" font-size="5.3" text-anchor="middle" fill="#111" stroke="#111" stroke-width="0" font-weight="bold">0 mV</text>
<text x="520.2" y="243.6" font-size="5.3" text-anchor="middle" fill="#111" stroke="#111" stroke-width="0" font-weight="bold">10 mV</text>
<text x="497.3" y="253.7" font-size="5.3" text-anchor="middle" fill="#111" stroke="#111" stroke-width="0" font-weight="bold">&#916; 10 mV</text>
<text x="497" y="266.4" font-size="5.3" text-anchor="middle" fill="#111" stroke="#111" stroke-width="0" font-weight="bold">-40 mV</text>
<text x="517.7" y="266.4" font-size="5.3" text-anchor="middle" fill="#111" stroke="#111" stroke-width="0" font-weight="bold">30 ms</text>
<text x="498.6" y="275.4" font-size="5.3" text-anchor="middle" fill="#111" stroke="#111" stroke-width="0" font-weight="bold">3000 ms</text>
<line x1="62.4" y1="375.0" x2="62.4" y2="452.5" stroke="#000" stroke-width="1.8" />
<line x1="59.5" y1="452.5" x2="65.7" y2="452.5" stroke="#000" stroke-width="1.5" />
<line x1="62.4" y1="461.8" x2="62.4" y2="495.1" stroke="#000" stroke-width="1.8" />
<line x1="59.5" y1="461.8" x2="65.7" y2="461.8" stroke="#000" stroke-width="1.5" />
<line x1="58.8" y1="495.0" x2="242" y2="495.0" stroke="#000" stroke-width="1.8" />
<line x1="58.8" y1="375.4" x2="62.4" y2="375.4" stroke="#000" stroke-width="1.5" />
<text x="56.9" y="379.4" font-size="11.2" text-anchor="end" fill="#111" stroke="#111" stroke-width="0.22" >4</text>
<line x1="58.8" y1="395.1" x2="62.4" y2="395.1" stroke="#000" stroke-width="1.5" />
<text x="56.9" y="399.1" font-size="11.2" text-anchor="end" fill="#111" stroke="#111" stroke-width="0.22" >3</text>
<line x1="58.8" y1="414.9" x2="62.4" y2="414.9" stroke="#000" stroke-width="1.5" />
<text x="56.9" y="418.9" font-size="11.2" text-anchor="end" fill="#111" stroke="#111" stroke-width="0.22" >2</text>
<line x1="58.8" y1="434.9" x2="62.4" y2="434.9" stroke="#000" stroke-width="1.5" />
<text x="56.9" y="438.9" font-size="11.2" text-anchor="end" fill="#111" stroke="#111" stroke-width="0.22" >1</text>
<line x1="58.8" y1="461.8" x2="62.4" y2="461.8" stroke="#000" stroke-width="1.5" />
<text x="56.9" y="465.8" font-size="11.2" text-anchor="end" fill="#111" stroke="#111" stroke-width="0.22" >0.02</text>
<line x1="58.8" y1="478.5" x2="62.4" y2="478.5" stroke="#000" stroke-width="1.5" />
<text x="56.9" y="482.5" font-size="11.2" text-anchor="end" fill="#111" stroke="#111" stroke-width="0.22" >0.01</text>
<line x1="58.8" y1="495.0" x2="62.4" y2="495.0" stroke="#000" stroke-width="1.5" />
<text x="56.9" y="499.0" font-size="11.2" text-anchor="end" fill="#111" stroke="#111" stroke-width="0.22" >0.00</text>
<text transform="translate(22.0,433.2) rotate(-90)" x="0" y="0" font-size="10.9" text-anchor="middle" dominant-baseline="central" fill="#111" stroke="#111" stroke-width="0.22">Relative trancript level</text>
<rect x="72.5" y="438.1" width="19.700000000000003" height="14.399999999999977" fill="#000000" />
<rect x="72.5" y="461.8" width="19.700000000000003" height="33.19999999999999" fill="#000000" />
<line x1="82.35" y1="435.1" x2="82.35" y2="438.1" stroke="#000000" stroke-width="1.6" />
<line x1="77.8" y1="435.1" x2="87.1" y2="435.1" stroke="#000000" stroke-width="1.6" />
<rect x="95.8" y="437.4" width="20.299999999999997" height="15.100000000000023" fill="#3a8ff6" />
<rect x="95.8" y="461.8" width="20.299999999999997" height="33.19999999999999" fill="#3a8ff6" />
<line x1="105.94999999999999" y1="435.3" x2="105.94999999999999" y2="437.4" stroke="#3a8ff6" stroke-width="1.6" />
<line x1="101.2" y1="435.3" x2="111.2" y2="435.3" stroke="#3a8ff6" stroke-width="1.6" />
<rect x="119.8" y="399.8" width="20.299999999999997" height="52.69999999999999" fill="#fa3032" />
<rect x="119.8" y="461.8" width="20.299999999999997" height="33.19999999999999" fill="#fa3032" />
<line x1="129.95" y1="392.5" x2="129.95" y2="399.8" stroke="#fa3032" stroke-width="1.6" />
<line x1="125" y1="392.5" x2="134.9" y2="392.5" stroke="#fa3032" stroke-width="1.6" />
<rect x="164" y="486.0" width="19.80000000000001" height="9.0" fill="#000000" />
<line x1="173.9" y1="483.7" x2="173.9" y2="486.0" stroke="#000000" stroke-width="1.6" />
<line x1="168.9" y1="483.7" x2="178.7" y2="483.7" stroke="#000000" stroke-width="1.6" />
<rect x="187.5" y="479.8" width="20.30000000000001" height="15.199999999999989" fill="#3a8ff6" />
<line x1="197.65" y1="476.5" x2="197.65" y2="479.8" stroke="#3a8ff6" stroke-width="1.6" />
<line x1="192.2" y1="476.5" x2="203" y2="476.5" stroke="#3a8ff6" stroke-width="1.6" />
<rect x="211.4" y="478.9" width="20.299999999999983" height="16.100000000000023" fill="#fa3032" />
<line x1="221.55" y1="473.8" x2="221.55" y2="478.9" stroke="#fa3032" stroke-width="1.6" />
<line x1="216.5" y1="473.8" x2="226.3" y2="473.8" stroke="#fa3032" stroke-width="1.6" />
<polygon points="124.50,373.10 125.27,375.15 127.45,375.24 125.74,376.60 126.32,378.71 124.50,377.50 122.68,378.71 123.26,376.60 121.55,375.24 123.73,375.15" fill="#111"/>
<polygon points="130.90,373.10 131.67,375.15 133.85,375.24 132.14,376.60 132.72,378.71 130.90,377.50 129.08,378.71 129.66,376.60 127.95,375.24 130.13,375.15" fill="#111"/>
<polygon points="137.30,373.10 138.07,375.15 140.25,375.24 138.54,376.60 139.12,378.71 137.30,377.50 135.48,378.71 136.06,376.60 134.35,375.24 136.53,375.15" fill="#111"/>
<text x="130.3" y="388.9" font-size="9.9" text-anchor="middle" fill="#111" stroke="#111" stroke-width="0.22" font-style="italic" font-weight="bold">###</text>
<text x="106.2" y="510.3" font-size="11.5" text-anchor="middle" fill="#111" stroke="#111" stroke-width="0.22" >CACNA1C</text>
<text x="197.3" y="510.1" font-size="11.5" text-anchor="middle" fill="#111" stroke="#111" stroke-width="0.22" >CACNA1D</text>
<rect x="168.6" y="406.7" width="14" height="7" fill="#000000" />
<text x="190.2" y="414.09999999999997" font-size="10.6" text-anchor="start" fill="#111" stroke="#111" stroke-width="0.22" >CTRL</text>
<rect x="168.6" y="419.9" width="14" height="7" fill="#3a8ff6" />
<text x="190.2" y="427.29999999999995" font-size="10.6" text-anchor="start" fill="#111" stroke="#111" stroke-width="0.22" >DM1-300</text>
<rect x="168.6" y="433.4" width="14" height="7" fill="#fa3032" />
<text x="190.2" y="440.79999999999995" font-size="10.6" text-anchor="start" fill="#111" stroke="#111" stroke-width="0.22" >DM1-1300</text>
<line x1="522.8" y1="377.4" x2="522.8" y2="500.2" stroke="#000" stroke-width="1.8" />
<line x1="521.9" y1="499.3" x2="585.7" y2="499.3" stroke="#000" stroke-width="1.8" />
<line x1="519.0" y1="499.3" x2="522.8" y2="499.3" stroke="#000" stroke-width="1.5" />
<text x="517.6" y="503.3" font-size="11.4" text-anchor="end" fill="#111" stroke="#111" stroke-width="0.22" >0.00</text>
<line x1="520.5999999999999" y1="487.2" x2="522.8" y2="487.2" stroke="#000" stroke-width="1.2" />
<line x1="519.0" y1="475.1" x2="522.8" y2="475.1" stroke="#000" stroke-width="1.5" />
<text x="517.6" y="479.1" font-size="11.4" text-anchor="end" fill="#111" stroke="#111" stroke-width="0.22" >0.02</text>
<line x1="520.5999999999999" y1="463.0" x2="522.8" y2="463.0" stroke="#000" stroke-width="1.2" />
<line x1="519.0" y1="450.90000000000003" x2="522.8" y2="450.90000000000003" stroke="#000" stroke-width="1.5" />
<text x="517.6" y="454.90000000000003" font-size="11.4" text-anchor="end" fill="#111" stroke="#111" stroke-width="0.22" >0.04</text>
<line x1="520.5999999999999" y1="438.8" x2="522.8" y2="438.8" stroke="#000" stroke-width="1.2" />
<line x1="519.0" y1="426.70000000000005" x2="522.8" y2="426.70000000000005" stroke="#000" stroke-width="1.5" />
<text x="517.6" y="430.70000000000005" font-size="11.4" text-anchor="end" fill="#111" stroke="#111" stroke-width="0.22" >0.06</text>
<line x1="520.5999999999999" y1="414.6" x2="522.8" y2="414.6" stroke="#000" stroke-width="1.2" />
<line x1="519.0" y1="402.5" x2="522.8" y2="402.5" stroke="#000" stroke-width="1.5" />
<text x="517.6" y="406.5" font-size="11.4" text-anchor="end" fill="#111" stroke="#111" stroke-width="0.22" >0.08</text>
<line x1="520.5999999999999" y1="390.40000000000003" x2="522.8" y2="390.40000000000003" stroke="#000" stroke-width="1.2" />
<line x1="519.0" y1="378.3" x2="522.8" y2="378.3" stroke="#000" stroke-width="1.5" />
<text x="517.6" y="382.3" font-size="11.4" text-anchor="end" fill="#111" stroke="#111" stroke-width="0.22" >0.10</text>
<text transform="translate(484.6,437.0) rotate(-90)" x="0" y="0" font-size="11.3" text-anchor="middle" dominant-baseline="central" fill="#111" stroke="#111" stroke-width="0.22">Protein relative amount</text>
<rect x="528.4" y="475" width="15.600000000000023" height="24.30000000000001" fill="#000000" />
<line x1="536.2" y1="467.7" x2="536.2" y2="475" stroke="#000000" stroke-width="1.6" />
<line x1="532.9" y1="467.7" x2="539.8" y2="467.7" stroke="#000000" stroke-width="1.6" />
<rect x="547.7" y="487.5" width="16.399999999999977" height="11.800000000000011" fill="#3a8ff6" />
<line x1="555.9000000000001" y1="480.3" x2="555.9000000000001" y2="487.5" stroke="#3a8ff6" stroke-width="1.6" />
<line x1="551.9" y1="480.3" x2="559.8" y2="480.3" stroke="#3a8ff6" stroke-width="1.6" />
<rect x="567.1" y="400.1" width="16.0" height="99.19999999999999" fill="#fa3032" />
<line x1="575.1" y1="390.5" x2="575.1" y2="400.1" stroke="#fa3032" stroke-width="1.6" />
<line x1="571.3" y1="390.5" x2="579" y2="390.5" stroke="#fa3032" stroke-width="1.6" />
<polygon points="572.30,368.30 573.04,370.28 575.15,370.37 573.50,371.69 574.06,373.73 572.30,372.56 570.54,373.73 571.10,371.69 569.45,370.37 571.56,370.28" fill="#111"/>
<polygon points="578.80,368.30 579.54,370.28 581.65,370.37 580.00,371.69 580.56,373.73 578.80,372.56 577.04,373.73 577.60,371.69 575.95,370.37 578.06,370.28" fill="#111"/>
<text x="575.1" y="384.3" font-size="9.9" text-anchor="middle" fill="#111" stroke="#111" stroke-width="0.22" font-style="italic" font-weight="bold">###</text>
<text x="536.0" y="514.6" font-size="11.5" fill="#111" stroke="#111" stroke-width="0.22">Ca<tspan font-size="7" dy="2.8">V</tspan><tspan dy="-2.8">1.2</tspan></text>
<rect x="596.4" y="421.7" width="14.1" height="7.2" fill="#000000" />
<text x="618.2" y="429.09999999999997" font-size="10.6" text-anchor="start" fill="#111" stroke="#111" stroke-width="0.22" >CTRL</text>
<rect x="596.4" y="435.1" width="14.1" height="7.2" fill="#3a8ff6" />
<text x="618.2" y="442.5" font-size="10.6" text-anchor="start" fill="#111" stroke="#111" stroke-width="0.22" >DM1-300</text>
<rect x="596.4" y="448.6" width="14.1" height="7.2" fill="#fa3032" />
<text x="618.2" y="456.0" font-size="10.6" text-anchor="start" fill="#111" stroke="#111" stroke-width="0.22" >DM1-1300</text>
<defs><filter id="bl" x="-20%" y="-50%" width="140%" height="200%"><feGaussianBlur stdDeviation="0.9"/></filter><filter id="bl2" x="-10%" y="-10%" width="120%" height="120%"><feGaussianBlur stdDeviation="0.6"/></filter><linearGradient id="lg" x1="0" y1="0" x2="0" y2="1"><stop offset="0" stop-color="#c4c4c4"/><stop offset="0.12" stop-color="#b8b8b8"/><stop offset="0.3" stop-color="#a2a2a2"/><stop offset="0.45" stop-color="#8e8e8e"/><stop offset="0.62" stop-color="#7a7a7a"/><stop offset="0.66" stop-color="#8a8a8a"/><stop offset="0.8" stop-color="#a0a0a0"/><stop offset="1" stop-color="#a8a8a8"/></linearGradient></defs>
<text x="345.4" y="354.0" font-size="7.4" text-anchor="middle" fill="#222" stroke="#222" stroke-width="0.22" >CTRL</text>
<text x="382.0" y="354.0" font-size="7.4" text-anchor="middle" fill="#222" stroke="#222" stroke-width="0.22" >DM1-300</text>
<text x="420.3" y="354.0" font-size="7.4" text-anchor="middle" fill="#222" stroke="#222" stroke-width="0.22" >DM1-1300</text>
<line x1="326.8" y1="357.1" x2="361.7" y2="357.1" stroke="#555" stroke-width="1.4" />
<line x1="364.5" y1="357.1" x2="399.9" y2="357.1" stroke="#555" stroke-width="1.4" />
<line x1="402.6" y1="357.1" x2="440" y2="357.1" stroke="#555" stroke-width="1.4" />
<text x="315.9" y="378.6" font-size="8.4" text-anchor="end" fill="#1a1a1a" stroke="#1a1a1a" stroke-width="0.2">Ca<tspan font-size="5.6" dy="2">V</tspan><tspan dy="-2">1.2</tspan></text>
<text x="315.5" y="407.1" font-size="8.4" text-anchor="end" fill="#1a1a1a" stroke="#1a1a1a" stroke-width="0.22" >NaK</text>
<text x="315.3" y="431.6" font-size="8.3" text-anchor="end" fill="#1a1a1a" stroke="#1a1a1a" stroke-width="0.22" >GAPDH</text>
<text x="300.3" y="472.2" font-size="8.4" text-anchor="middle" fill="#1a1a1a" stroke="#1a1a1a" stroke-width="0.22" >Total</text>
<text x="300.3" y="481.8" font-size="8.4" text-anchor="middle" fill="#1a1a1a" stroke="#1a1a1a" stroke-width="0.22" >proteins</text>
<rect x="325" y="443" width="117.6" height="62.5" fill="#e6e6e6" />
<g filter="url(#bl2)">
<rect x="328.3" y="445.7" width="9.0" height="1.05" fill="rgb(193,193,193)" />
<rect x="328.3" y="446.7" width="9.0" height="1.05" fill="rgb(185,185,185)" />
<rect x="328.3" y="447.7" width="9.0" height="1.05" fill="rgb(193,193,193)" />
<rect x="328.3" y="448.7" width="9.0" height="1.05" fill="rgb(180,180,180)" />
<rect x="328.3" y="449.7" width="9.0" height="1.05" fill="rgb(187,187,187)" />
<rect x="328.3" y="450.7" width="9.0" height="1.05" fill="rgb(176,176,176)" />
<rect x="328.3" y="451.7" width="9.0" height="1.05" fill="rgb(181,181,181)" />
<rect x="328.3" y="452.7" width="9.0" height="1.05" fill="rgb(172,172,172)" />
<rect x="328.3" y="453.7" width="9.0" height="1.05" fill="rgb(167,167,167)" />
<rect x="328.3" y="454.7" width="9.0" height="1.05" fill="rgb(169,169,169)" />
<rect x="328.3" y="455.7" width="9.0" height="1.05" fill="rgb(169,169,169)" />
<rect x="328.3" y="456.7" width="9.0" height="1.05" fill="rgb(165,165,165)" />
<rect x="328.3" y="457.7" width="9.0" height="1.05" fill="rgb(161,161,161)" />
<rect x="328.3" y="458.7" width="9.0" height="1.05" fill="rgb(158,158,158)" />
<rect x="328.3" y="459.7" width="9.0" height="1.05" fill="rgb(143,143,143)" />
<rect x="328.3" y="460.7" width="9.0" height="1.05" fill="rgb(143,143,143)" />
<rect x="328.3" y="461.7" width="9.0" height="1.05" fill="rgb(142,142,142)" />
<rect x="328.3" y="462.7" width="9.0" height="1.05" fill="rgb(151,151,151)" />
<rect x="328.3" y="463.7" width="9.0" height="1.05" fill="rgb(149,149,149)" />
<rect x="328.3" y="464.7" width="9.0" height="1.05" fill="rgb(151,151,151)" />
<rect x="328.3" y="465.7" width="9.0" height="1.05" fill="rgb(151,151,151)" />
<rect x="328.3" y="466.7" width="9.0" height="1.05" fill="rgb(152,152,152)" />
<rect x="328.3" y="467.7" width="9.0" height="1.05" fill="rgb(147,147,147)" />
<rect x="328.3" y="468.7" width="9.0" height="1.05" fill="rgb(144,144,144)" />
<rect x="328.3" y="469.7" width="9.0" height="1.05" fill="rgb(136,136,136)" />
<rect x="328.3" y="470.7" width="9.0" height="1.05" fill="rgb(126,126,126)" />
<rect x="328.3" y="471.7" width="9.0" height="1.05" fill="rgb(132,132,132)" />
<rect x="328.3" y="472.7" width="9.0" height="1.05" fill="rgb(119,119,119)" />
<rect x="328.3" y="473.7" width="9.0" height="1.05" fill="rgb(116,116,116)" />
<rect x="328.3" y="474.7" width="9.0" height="1.05" fill="rgb(123,123,123)" />
<rect x="328.3" y="475.7" width="9.0" height="1.05" fill="rgb(114,114,114)" />
<rect x="328.3" y="476.7" width="9.0" height="1.05" fill="rgb(117,117,117)" />
<rect x="328.3" y="477.7" width="9.0" height="1.05" fill="rgb(108,108,108)" />
<rect x="328.3" y="478.7" width="9.0" height="1.05" fill="rgb(109,109,109)" />
<rect x="328.3" y="479.7" width="9.0" height="1.05" fill="rgb(113,113,113)" />
<rect x="328.3" y="480.7" width="9.0" height="1.05" fill="rgb(102,102,102)" />
<rect x="328.3" y="481.7" width="9.0" height="1.05" fill="rgb(95,95,95)" />
<rect x="328.3" y="482.7" width="9.0" height="1.05" fill="rgb(50,50,50)" />
<rect x="328.3" y="483.7" width="9.0" height="1.05" fill="rgb(35,35,35)" />
<rect x="328.3" y="484.7" width="9.0" height="1.05" fill="rgb(68,68,68)" />
<rect x="328.3" y="485.7" width="9.0" height="1.05" fill="rgb(146,146,146)" />
<rect x="328.3" y="486.7" width="9.0" height="1.05" fill="rgb(159,159,159)" />
<rect x="328.3" y="487.7" width="9.0" height="1.05" fill="rgb(132,132,132)" />
<rect x="328.3" y="488.7" width="9.0" height="1.05" fill="rgb(122,122,122)" />
<rect x="328.3" y="489.7" width="9.0" height="1.05" fill="rgb(148,148,148)" />
<rect x="328.3" y="490.7" width="9.0" height="1.05" fill="rgb(153,153,153)" />
<rect x="328.3" y="491.7" width="9.0" height="1.05" fill="rgb(127,127,127)" />
<rect x="328.3" y="492.7" width="9.0" height="1.05" fill="rgb(140,140,140)" />
<rect x="328.3" y="493.7" width="9.0" height="1.05" fill="rgb(164,164,164)" />
<rect x="328.3" y="494.7" width="9.0" height="1.05" fill="rgb(180,180,180)" />
<rect x="328.3" y="495.7" width="9.0" height="1.05" fill="rgb(177,177,177)" />
<rect x="328.3" y="496.7" width="9.0" height="1.05" fill="rgb(184,184,184)" />
<rect x="328.3" y="497.7" width="9.0" height="1.05" fill="rgb(163,163,163)" />
<rect x="328.3" y="498.7" width="9.0" height="1.05" fill="rgb(148,148,148)" />
<rect x="328.3" y="499.7" width="9.0" height="1.05" fill="rgb(140,140,140)" />
<rect x="328.3" y="500.7" width="9.0" height="1.05" fill="rgb(150,150,150)" />
<rect x="328.3" y="501.7" width="9.0" height="1.05" fill="rgb(172,172,172)" />
<rect x="328.3" y="502.7" width="9.0" height="1.05" fill="rgb(184,184,184)" />
<rect x="339.8" y="445.7" width="10.099999999999966" height="1.05" fill="rgb(197,197,197)" />
<rect x="339.8" y="446.7" width="10.099999999999966" height="1.05" fill="rgb(188,188,188)" />
<rect x="339.8" y="447.7" width="10.099999999999966" height="1.05" fill="rgb(186,186,186)" />
<rect x="339.8" y="448.7" width="10.099999999999966" height="1.05" fill="rgb(183,183,183)" />
<rect x="339.8" y="449.7" width="10.099999999999966" height="1.05" fill="rgb(190,190,190)" />
<rect x="339.8" y="450.7" width="10.099999999999966" height="1.05" fill="rgb(182,182,182)" />
<rect x="339.8" y="451.7" width="10.099999999999966" height="1.05" fill="rgb(178,178,178)" />
<rect x="339.8" y="452.7" width="10.099999999999966" height="1.05" fill="rgb(177,177,177)" />
<rect x="339.8" y="453.7" width="10.099999999999966" height="1.05" fill="rgb(177,177,177)" />
<rect x="339.8" y="454.7" width="10.099999999999966" height="1.05" fill="rgb(169,169,169)" />
<rect x="339.8" y="455.7" width="10.099999999999966" height="1.05" fill="rgb(165,165,165)" />
<rect x="339.8" y="456.7" width="10.099999999999966" height="1.05" fill="rgb(167,167,167)" />
<rect x="339.8" y="457.7" width="10.099999999999966" height="1.05" fill="rgb(163,163,163)" />
<rect x="339.8" y="458.7" width="10.099999999999966" height="1.05" fill="rgb(153,153,153)" />
<rect x="339.8" y="459.7" width="10.099999999999966" height="1.05" fill="rgb(146,146,146)" />
<rect x="339.8" y="460.7" width="10.099999999999966" height="1.05" fill="rgb(153,153,153)" />
<rect x="339.8" y="461.7" width="10.099999999999966" height="1.05" fill="rgb(152,152,152)" />
<rect x="339.8" y="462.7" width="10.099999999999966" height="1.05" fill="rgb(152,152,152)" />
<rect x="339.8" y="463.7" width="10.099999999999966" height="1.05" fill="rgb(151,151,151)" />
<rect x="339.8" y="464.7" width="10.099999999999966" height="1.05" fill="rgb(157,157,157)" />
<rect x="339.8" y="465.7" width="10.099999999999966" height="1.05" fill="rgb(150,150,150)" />
<rect x="339.8" y="466.7" width="10.099999999999966" height="1.05" fill="rgb(146,146,146)" />
<rect x="339.8" y="467.7" width="10.099999999999966" height="1.05" fill="rgb(143,143,143)" />
<rect x="339.8" y="468.7" width="10.099999999999966" height="1.05" fill="rgb(142,142,142)" />
<rect x="339.8" y="469.7" width="10.099999999999966" height="1.05" fill="rgb(140,140,140)" />
<rect x="339.8" y="470.7" width="10.099999999999966" height="1.05" fill="rgb(133,133,133)" />
<rect x="339.8" y="471.7" width="10.099999999999966" height="1.05" fill="rgb(137,137,137)" />
<rect x="339.8" y="472.7" width="10.099999999999966" height="1.05" fill="rgb(130,130,130)" />
<rect x="339.8" y="473.7" width="10.099999999999966" height="1.05" fill="rgb(125,125,125)" />
<rect x="339.8" y="474.7" width="10.099999999999966" height="1.05" fill="rgb(125,125,125)" />
<rect x="339.8" y="475.7" width="10.099999999999966" height="1.05" fill="rgb(122,122,122)" />
<rect x="339.8" y="476.7" width="10.099999999999966" height="1.05" fill="rgb(121,121,121)" />
<rect x="339.8" y="477.7" width="10.099999999999966" height="1.05" fill="rgb(118,118,118)" />
<rect x="339.8" y="478.7" width="10.099999999999966" height="1.05" fill="rgb(117,117,117)" />
<rect x="339.8" y="479.7" width="10.099999999999966" height="1.05" fill="rgb(115,115,115)" />
<rect x="339.8" y="480.7" width="10.099999999999966" height="1.05" fill="rgb(116,116,116)" />
<rect x="339.8" y="481.7" width="10.099999999999966" height="1.05" fill="rgb(96,96,96)" />
<rect x="339.8" y="482.7" width="10.099999999999966" height="1.05" fill="rgb(54,54,54)" />
<rect x="339.8" y="483.7" width="10.099999999999966" height="1.05" fill="rgb(43,43,43)" />
<rect x="339.8" y="484.7" width="10.099999999999966" height="1.05" fill="rgb(75,75,75)" />
<rect x="339.8" y="485.7" width="10.099999999999966" height="1.05" fill="rgb(141,141,141)" />
<rect x="339.8" y="486.7" width="10.099999999999966" height="1.05" fill="rgb(160,160,160)" />
<rect x="339.8" y="487.7" width="10.099999999999966" height="1.05" fill="rgb(132,132,132)" />
<rect x="339.8" y="488.7" width="10.099999999999966" height="1.05" fill="rgb(126,126,126)" />
<rect x="339.8" y="489.7" width="10.099999999999966" height="1.05" fill="rgb(154,154,154)" />
<rect x="339.8" y="490.7" width="10.099999999999966" height="1.05" fill="rgb(157,157,157)" />
<rect x="339.8" y="491.7" width="10.099999999999966" height="1.05" fill="rgb(126,126,126)" />
<rect x="339.8" y="492.7" width="10.099999999999966" height="1.05" fill="rgb(139,139,139)" />
<rect x="339.8" y="493.7" width="10.099999999999966" height="1.05" fill="rgb(171,171,171)" />
<rect x="339.8" y="494.7" width="10.099999999999966" height="1.05" fill="rgb(175,175,175)" />
<rect x="339.8" y="495.7" width="10.099999999999966" height="1.05" fill="rgb(180,180,180)" />
<rect x="339.8" y="496.7" width="10.099999999999966" height="1.05" fill="rgb(179,179,179)" />
<rect x="339.8" y="497.7" width="10.099999999999966" height="1.05" fill="rgb(172,172,172)" />
<rect x="339.8" y="498.7" width="10.099999999999966" height="1.05" fill="rgb(150,150,150)" />
<rect x="339.8" y="499.7" width="10.099999999999966" height="1.05" fill="rgb(142,142,142)" />
<rect x="339.8" y="500.7" width="10.099999999999966" height="1.05" fill="rgb(155,155,155)" />
<rect x="339.8" y="501.7" width="10.099999999999966" height="1.05" fill="rgb(174,174,174)" />
<rect x="339.8" y="502.7" width="10.099999999999966" height="1.05" fill="rgb(186,186,186)" />
<rect x="352.1" y="445.7" width="9.5" height="1.05" fill="rgb(196,196,196)" />
<rect x="352.1" y="446.7" width="9.5" height="1.05" fill="rgb(186,186,186)" />
<rect x="352.1" y="447.7" width="9.5" height="1.05" fill="rgb(190,190,190)" />
<rect x="352.1" y="448.7" width="9.5" height="1.05" fill="rgb(188,188,188)" />
<rect x="352.1" y="449.7" width="9.5" height="1.05" fill="rgb(181,181,181)" />
<rect x="352.1" y="450.7" width="9.5" height="1.05" fill="rgb(187,187,187)" />
<rect x="352.1" y="451.7" width="9.5" height="1.05" fill="rgb(179,179,179)" />
<rect x="352.1" y="452.7" width="9.5" height="1.05" fill="rgb(176,176,176)" />
<rect x="352.1" y="453.7" width="9.5" height="1.05" fill="rgb(177,177,177)" />
<rect x="352.1" y="454.7" width="9.5" height="1.05" fill="rgb(174,174,174)" />
<rect x="352.1" y="455.7" width="9.5" height="1.05" fill="rgb(169,169,169)" />
<rect x="352.1" y="456.7" width="9.5" height="1.05" fill="rgb(170,170,170)" />
<rect x="352.1" y="457.7" width="9.5" height="1.05" fill="rgb(162,162,162)" />
<rect x="352.1" y="458.7" width="9.5" height="1.05" fill="rgb(156,156,156)" />
<rect x="352.1" y="459.7" width="9.5" height="1.05" fill="rgb(148,148,148)" />
<rect x="352.1" y="460.7" width="9.5" height="1.05" fill="rgb(151,151,151)" />
<rect x="352.1" y="461.7" width="9.5" height="1.05" fill="rgb(150,150,150)" />
<rect x="352.1" y="462.7" width="9.5" height="1.05" fill="rgb(154,154,154)" />
<rect x="352.1" y="463.7" width="9.5" height="1.05" fill="rgb(153,153,153)" />
<rect x="352.1" y="464.7" width="9.5" height="1.05" fill="rgb(148,148,148)" />
<rect x="352.1" y="465.7" width="9.5" height="1.05" fill="rgb(147,147,147)" />
<rect x="352.1" y="466.7" width="9.5" height="1.05" fill="rgb(148,148,148)" />
<rect x="352.1" y="467.7" width="9.5" height="1.05" fill="rgb(145,145,145)" />
<rect x="352.1" y="468.7" width="9.5" height="1.05" fill="rgb(150,150,150)" />
<rect x="352.1" y="469.7" width="9.5" height="1.05" fill="rgb(142,142,142)" />
<rect x="352.1" y="470.7" width="9.5" height="1.05" fill="rgb(134,134,134)" />
<rect x="352.1" y="471.7" width="9.5" height="1.05" fill="rgb(136,136,136)" />
<rect x="352.1" y="472.7" width="9.5" height="1.05" fill="rgb(132,132,132)" />
<rect x="352.1" y="473.7" width="9.5" height="1.05" fill="rgb(123,123,123)" />
<rect x="352.1" y="474.7" width="9.5" height="1.05" fill="rgb(129,129,129)" />
<rect x="352.1" y="475.7" width="9.5" height="1.05" fill="rgb(121,121,121)" />
<rect x="352.1" y="476.7" width="9.5" height="1.05" fill="rgb(128,128,128)" />
<rect x="352.1" y="477.7" width="9.5" height="1.05" fill="rgb(117,117,117)" />
<rect x="352.1" y="478.7" width="9.5" height="1.05" fill="rgb(117,117,117)" />
<rect x="352.1" y="479.7" width="9.5" height="1.05" fill="rgb(115,115,115)" />
<rect x="352.1" y="480.7" width="9.5" height="1.05" fill="rgb(119,119,119)" />
<rect x="352.1" y="481.7" width="9.5" height="1.05" fill="rgb(106,106,106)" />
<rect x="352.1" y="482.7" width="9.5" height="1.05" fill="rgb(56,56,56)" />
<rect x="352.1" y="483.7" width="9.5" height="1.05" fill="rgb(45,45,45)" />
<rect x="352.1" y="484.7" width="9.5" height="1.05" fill="rgb(74,74,74)" />
<rect x="352.1" y="485.7" width="9.5" height="1.05" fill="rgb(151,151,151)" />
<rect x="352.1" y="486.7" width="9.5" height="1.05" fill="rgb(157,157,157)" />
<rect x="352.1" y="487.7" width="9.5" height="1.05" fill="rgb(141,141,141)" />
<rect x="352.1" y="488.7" width="9.5" height="1.05" fill="rgb(131,131,131)" />
<rect x="352.1" y="489.7" width="9.5" height="1.05" fill="rgb(164,164,164)" />
<rect x="352.1" y="490.7" width="9.5" height="1.05" fill="rgb(164,164,164)" />
<rect x="352.1" y="491.7" width="9.5" height="1.05" fill="rgb(134,134,134)" />
<rect x="352.1" y="492.7" width="9.5" height="1.05" fill="rgb(146,146,146)" />
<rect x="352.1" y="493.7" width="9.5" height="1.05" fill="rgb(169,169,169)" />
<rect x="352.1" y="494.7" width="9.5" height="1.05" fill="rgb(181,181,181)" />
<rect x="352.1" y="495.7" width="9.5" height="1.05" fill="rgb(181,181,181)" />
<rect x="352.1" y="496.7" width="9.5" height="1.05" fill="rgb(180,180,180)" />
<rect x="352.1" y="497.7" width="9.5" height="1.05" fill="rgb(172,172,172)" />
<rect x="352.1" y="498.7" width="9.5" height="1.05" fill="rgb(148,148,148)" />
<rect x="352.1" y="499.7" width="9.5" height="1.05" fill="rgb(147,147,147)" />
<rect x="352.1" y="500.7" width="9.5" height="1.05" fill="rgb(158,158,158)" />
<rect x="352.1" y="501.7" width="9.5" height="1.05" fill="rgb(178,178,178)" />
<rect x="352.1" y="502.7" width="9.5" height="1.05" fill="rgb(187,187,187)" />
<rect x="364.1" y="445.7" width="10.5" height="1.05" fill="rgb(186,186,186)" />
<rect x="364.1" y="446.7" width="10.5" height="1.05" fill="rgb(186,186,186)" />
<rect x="364.1" y="447.7" width="10.5" height="1.05" fill="rgb(175,175,175)" />
<rect x="364.1" y="448.7" width="10.5" height="1.05" fill="rgb(175,175,175)" />
<rect x="364.1" y="449.7" width="10.5" height="1.05" fill="rgb(174,174,174)" />
<rect x="364.1" y="450.7" width="10.5" height="1.05" fill="rgb(172,172,172)" />
<rect x="364.1" y="451.7" width="10.5" height="1.05" fill="rgb(172,172,172)" />
<rect x="364.1" y="452.7" width="10.5" height="1.05" fill="rgb(171,171,171)" />
<rect x="364.1" y="453.7" width="10.5" height="1.05" fill="rgb(166,166,166)" />
<rect x="364.1" y="454.7" width="10.5" height="1.05" fill="rgb(165,165,165)" />
<rect x="364.1" y="455.7" width="10.5" height="1.05" fill="rgb(158,158,158)" />
<rect x="364.1" y="456.7" width="10.5" height="1.05" fill="rgb(150,150,150)" />
<rect x="364.1" y="457.7" width="10.5" height="1.05" fill="rgb(147,147,147)" />
<rect x="364.1" y="458.7" width="10.5" height="1.05" fill="rgb(145,145,145)" />
<rect x="364.1" y="459.7" width="10.5" height="1.05" fill="rgb(141,141,141)" />
<rect x="364.1" y="460.7" width="10.5" height="1.05" fill="rgb(132,132,132)" />
<rect x="364.1" y="461.7" width="10.5" height="1.05" fill="rgb(134,134,134)" />
<rect x="364.1" y="462.7" width="10.5" height="1.05" fill="rgb(139,139,139)" />
<rect x="364.1" y="463.7" width="10.5" height="1.05" fill="rgb(136,136,136)" />
<rect x="364.1" y="464.7" width="10.5" height="1.05" fill="rgb(142,142,142)" />
<rect x="364.1" y="465.7" width="10.5" height="1.05" fill="rgb(131,131,131)" />
<rect x="364.1" y="466.7" width="10.5" height="1.05" fill="rgb(137,137,137)" />
<rect x="364.1" y="467.7" width="10.5" height="1.05" fill="rgb(133,133,133)" />
<rect x="364.1" y="468.7" width="10.5" height="1.05" fill="rgb(125,125,125)" />
<rect x="364.1" y="469.7" width="10.5" height="1.05" fill="rgb(124,124,124)" />
<rect x="364.1" y="470.7" width="10.5" height="1.05" fill="rgb(118,118,118)" />
<rect x="364.1" y="471.7" width="10.5" height="1.05" fill="rgb(120,120,120)" />
<rect x="364.1" y="472.7" width="10.5" height="1.05" fill="rgb(116,116,116)" />
<rect x="364.1" y="473.7" width="10.5" height="1.05" fill="rgb(109,109,109)" />
<rect x="364.1" y="474.7" width="10.5" height="1.05" fill="rgb(110,110,110)" />
<rect x="364.1" y="475.7" width="10.5" height="1.05" fill="rgb(108,108,108)" />
<rect x="364.1" y="476.7" width="10.5" height="1.05" fill="rgb(97,97,97)" />
<rect x="364.1" y="477.7" width="10.5" height="1.05" fill="rgb(104,104,104)" />
<rect x="364.1" y="478.7" width="10.5" height="1.05" fill="rgb(102,102,102)" />
<rect x="364.1" y="479.7" width="10.5" height="1.05" fill="rgb(102,102,102)" />
<rect x="364.1" y="480.7" width="10.5" height="1.05" fill="rgb(96,96,96)" />
<rect x="364.1" y="481.7" width="10.5" height="1.05" fill="rgb(77,77,77)" />
<rect x="364.1" y="482.7" width="10.5" height="1.05" fill="rgb(20,20,20)" />
<rect x="364.1" y="483.7" width="10.5" height="1.05" fill="rgb(19,19,19)" />
<rect x="364.1" y="484.7" width="10.5" height="1.05" fill="rgb(43,43,43)" />
<rect x="364.1" y="485.7" width="10.5" height="1.05" fill="rgb(135,135,135)" />
<rect x="364.1" y="486.7" width="10.5" height="1.05" fill="rgb(149,149,149)" />
<rect x="364.1" y="487.7" width="10.5" height="1.05" fill="rgb(121,121,121)" />
<rect x="364.1" y="488.7" width="10.5" height="1.05" fill="rgb(105,105,105)" />
<rect x="364.1" y="489.7" width="10.5" height="1.05" fill="rgb(142,142,142)" />
<rect x="364.1" y="490.7" width="10.5" height="1.05" fill="rgb(152,152,152)" />
<rect x="364.1" y="491.7" width="10.5" height="1.05" fill="rgb(116,116,116)" />
<rect x="364.1" y="492.7" width="10.5" height="1.05" fill="rgb(121,121,121)" />
<rect x="364.1" y="493.7" width="10.5" height="1.05" fill="rgb(160,160,160)" />
<rect x="364.1" y="494.7" width="10.5" height="1.05" fill="rgb(171,171,171)" />
<rect x="364.1" y="495.7" width="10.5" height="1.05" fill="rgb(176,176,176)" />
<rect x="364.1" y="496.7" width="10.5" height="1.05" fill="rgb(173,173,173)" />
<rect x="364.1" y="497.7" width="10.5" height="1.05" fill="rgb(152,152,152)" />
<rect x="364.1" y="498.7" width="10.5" height="1.05" fill="rgb(143,143,143)" />
<rect x="364.1" y="499.7" width="10.5" height="1.05" fill="rgb(131,131,131)" />
<rect x="364.1" y="500.7" width="10.5" height="1.05" fill="rgb(147,147,147)" />
<rect x="364.1" y="501.7" width="10.5" height="1.05" fill="rgb(159,159,159)" />
<rect x="364.1" y="502.7" width="10.5" height="1.05" fill="rgb(169,169,169)" />
<rect x="376.8" y="445.7" width="10.899999999999977" height="1.05" fill="rgb(186,186,186)" />
<rect x="376.8" y="446.7" width="10.899999999999977" height="1.05" fill="rgb(185,185,185)" />
<rect x="376.8" y="447.7" width="10.899999999999977" height="1.05" fill="rgb(181,181,181)" />
<rect x="376.8" y="448.7" width="10.899999999999977" height="1.05" fill="rgb(173,173,173)" />
<rect x="376.8" y="449.7" width="10.899999999999977" height="1.05" fill="rgb(177,177,177)" />
<rect x="376.8" y="450.7" width="10.899999999999977" height="1.05" fill="rgb(171,171,171)" />
<rect x="376.8" y="451.7" width="10.899999999999977" height="1.05" fill="rgb(167,167,167)" />
<rect x="376.8" y="452.7" width="10.899999999999977" height="1.05" fill="rgb(166,166,166)" />
<rect x="376.8" y="453.7" width="10.899999999999977" height="1.05" fill="rgb(161,161,161)" />
<rect x="376.8" y="454.7" width="10.899999999999977" height="1.05" fill="rgb(160,160,160)" />
<rect x="376.8" y="455.7" width="10.899999999999977" height="1.05" fill="rgb(157,157,157)" />
<rect x="376.8" y="456.7" width="10.899999999999977" height="1.05" fill="rgb(155,155,155)" />
<rect x="376.8" y="457.7" width="10.899999999999977" height="1.05" fill="rgb(140,140,140)" />
<rect x="376.8" y="458.7" width="10.899999999999977" height="1.05" fill="rgb(141,141,141)" />
<rect x="376.8" y="459.7" width="10.899999999999977" height="1.05" fill="rgb(141,141,141)" />
<rect x="376.8" y="460.7" width="10.899999999999977" height="1.05" fill="rgb(134,134,134)" />
<rect x="376.8" y="461.7" width="10.899999999999977" height="1.05" fill="rgb(134,134,134)" />
<rect x="376.8" y="462.7" width="10.899999999999977" height="1.05" fill="rgb(140,140,140)" />
<rect x="376.8" y="463.7" width="10.899999999999977" height="1.05" fill="rgb(131,131,131)" />
<rect x="376.8" y="464.7" width="10.899999999999977" height="1.05" fill="rgb(139,139,139)" />
<rect x="376.8" y="465.7" width="10.899999999999977" height="1.05" fill="rgb(136,136,136)" />
<rect x="376.8" y="466.7" width="10.899999999999977" height="1.05" fill="rgb(134,134,134)" />
<rect x="376.8" y="467.7" width="10.899999999999977" height="1.05" fill="rgb(129,129,129)" />
<rect x="376.8" y="468.7" width="10.899999999999977" height="1.05" fill="rgb(128,128,128)" />
<rect x="376.8" y="469.7" width="10.899999999999977" height="1.05" fill="rgb(116,116,116)" />
<rect x="376.8" y="470.7" width="10.899999999999977" height="1.05" fill="rgb(116,116,116)" />
<rect x="376.8" y="471.7" width="10.899999999999977" height="1.05" fill="rgb(109,109,109)" />
<rect x="376.8" y="472.7" width="10.899999999999977" height="1.05" fill="rgb(114,114,114)" />
<rect x="376.8" y="473.7" width="10.899999999999977" height="1.05" fill="rgb(109,109,109)" />
<rect x="376.8" y="474.7" width="10.899999999999977" height="1.05" fill="rgb(103,103,103)" />
<rect x="376.8" y="475.7" width="10.899999999999977" height="1.05" fill="rgb(104,104,104)" />
<rect x="376.8" y="476.7" width="10.899999999999977" height="1.05" fill="rgb(97,97,97)" />
<rect x="376.8" y="477.7" width="10.899999999999977" height="1.05" fill="rgb(97,97,97)" />
<rect x="376.8" y="478.7" width="10.899999999999977" height="1.05" fill="rgb(91,91,91)" />
<rect x="376.8" y="479.7" width="10.899999999999977" height="1.05" fill="rgb(98,98,98)" />
<rect x="376.8" y="480.7" width="10.899999999999977" height="1.05" fill="rgb(93,93,93)" />
<rect x="376.8" y="481.7" width="10.899999999999977" height="1.05" fill="rgb(78,78,78)" />
<rect x="376.8" y="482.7" width="10.899999999999977" height="1.05" fill="rgb(14,14,14)" />
<rect x="376.8" y="483.7" width="10.899999999999977" height="1.05" fill="rgb(17,17,17)" />
<rect x="376.8" y="484.7" width="10.899999999999977" height="1.05" fill="rgb(37,37,37)" />
<rect x="376.8" y="485.7" width="10.899999999999977" height="1.05" fill="rgb(131,131,131)" />
<rect x="376.8" y="486.7" width="10.899999999999977" height="1.05" fill="rgb(157,157,157)" />
<rect x="376.8" y="487.7" width="10.899999999999977" height="1.05" fill="rgb(123,123,123)" />
<rect x="376.8" y="488.7" width="10.899999999999977" height="1.05" fill="rgb(118,118,118)" />
<rect x="376.8" y="489.7" width="10.899999999999977" height="1.05" fill="rgb(158,158,158)" />
<rect x="376.8" y="490.7" width="10.899999999999977" height="1.05" fill="rgb(157,157,157)" />
<rect x="376.8" y="491.7" width="10.899999999999977" height="1.05" fill="rgb(123,123,123)" />
<rect x="376.8" y="492.7" width="10.899999999999977" height="1.05" fill="rgb(137,137,137)" />
<rect x="376.8" y="493.7" width="10.899999999999977" height="1.05" fill="rgb(165,165,165)" />
<rect x="376.8" y="494.7" width="10.899999999999977" height="1.05" fill="rgb(183,183,183)" />
<rect x="376.8" y="495.7" width="10.899999999999977" height="1.05" fill="rgb(180,180,180)" />
<rect x="376.8" y="496.7" width="10.899999999999977" height="1.05" fill="rgb(175,175,175)" />
<rect x="376.8" y="497.7" width="10.899999999999977" height="1.05" fill="rgb(169,169,169)" />
<rect x="376.8" y="498.7" width="10.899999999999977" height="1.05" fill="rgb(142,142,142)" />
<rect x="376.8" y="499.7" width="10.899999999999977" height="1.05" fill="rgb(134,134,134)" />
<rect x="376.8" y="500.7" width="10.899999999999977" height="1.05" fill="rgb(157,157,157)" />
<rect x="376.8" y="501.7" width="10.899999999999977" height="1.05" fill="rgb(164,164,164)" />
<rect x="376.8" y="502.7" width="10.899999999999977" height="1.05" fill="rgb(180,180,180)" />
<rect x="390.8" y="445.7" width="10.5" height="1.05" fill="rgb(200,200,200)" />
<rect x="390.8" y="446.7" width="10.5" height="1.05" fill="rgb(195,195,195)" />
<rect x="390.8" y="447.7" width="10.5" height="1.05" fill="rgb(190,190,190)" />
<rect x="390.8" y="448.7" width="10.5" height="1.05" fill="rgb(194,194,194)" />
<rect x="390.8" y="449.7" width="10.5" height="1.05" fill="rgb(193,193,193)" />
<rect x="390.8" y="450.7" width="10.5" height="1.05" fill="rgb(187,187,187)" />
<rect x="390.8" y="451.7" width="10.5" height="1.05" fill="rgb(185,185,185)" />
<rect x="390.8" y="452.7" width="10.5" height="1.05" fill="rgb(179,179,179)" />
<rect x="390.8" y="453.7" width="10.5" height="1.05" fill="rgb(177,177,177)" />
<rect x="390.8" y="454.7" width="10.5" height="1.05" fill="rgb(181,181,181)" />
<rect x="390.8" y="455.7" width="10.5" height="1.05" fill="rgb(178,178,178)" />
<rect x="390.8" y="456.7" width="10.5" height="1.05" fill="rgb(162,162,162)" />
<rect x="390.8" y="457.7" width="10.5" height="1.05" fill="rgb(161,161,161)" />
<rect x="390.8" y="458.7" width="10.5" height="1.05" fill="rgb(157,157,157)" />
<rect x="390.8" y="459.7" width="10.5" height="1.05" fill="rgb(160,160,160)" />
<rect x="390.8" y="460.7" width="10.5" height="1.05" fill="rgb(150,150,150)" />
<rect x="390.8" y="461.7" width="10.5" height="1.05" fill="rgb(151,151,151)" />
<rect x="390.8" y="462.7" width="10.5" height="1.05" fill="rgb(160,160,160)" />
<rect x="390.8" y="463.7" width="10.5" height="1.05" fill="rgb(154,154,154)" />
<rect x="390.8" y="464.7" width="10.5" height="1.05" fill="rgb(163,163,163)" />
<rect x="390.8" y="465.7" width="10.5" height="1.05" fill="rgb(155,155,155)" />
<rect x="390.8" y="466.7" width="10.5" height="1.05" fill="rgb(160,160,160)" />
<rect x="390.8" y="467.7" width="10.5" height="1.05" fill="rgb(157,157,157)" />
<rect x="390.8" y="468.7" width="10.5" height="1.05" fill="rgb(146,146,146)" />
<rect x="390.8" y="469.7" width="10.5" height="1.05" fill="rgb(148,148,148)" />
<rect x="390.8" y="470.7" width="10.5" height="1.05" fill="rgb(140,140,140)" />
<rect x="390.8" y="471.7" width="10.5" height="1.05" fill="rgb(134,134,134)" />
<rect x="390.8" y="472.7" width="10.5" height="1.05" fill="rgb(129,129,129)" />
<rect x="390.8" y="473.7" width="10.5" height="1.05" fill="rgb(134,134,134)" />
<rect x="390.8" y="474.7" width="10.5" height="1.05" fill="rgb(131,131,131)" />
<rect x="390.8" y="475.7" width="10.5" height="1.05" fill="rgb(126,126,126)" />
<rect x="390.8" y="476.7" width="10.5" height="1.05" fill="rgb(130,130,130)" />
<rect x="390.8" y="477.7" width="10.5" height="1.05" fill="rgb(122,122,122)" />
<rect x="390.8" y="478.7" width="10.5" height="1.05" fill="rgb(123,123,123)" />
<rect x="390.8" y="479.7" width="10.5" height="1.05" fill="rgb(117,117,117)" />
<rect x="390.8" y="480.7" width="10.5" height="1.05" fill="rgb(117,117,117)" />
<rect x="390.8" y="481.7" width="10.5" height="1.05" fill="rgb(112,112,112)" />
<rect x="390.8" y="482.7" width="10.5" height="1.05" fill="rgb(61,61,61)" />
<rect x="390.8" y="483.7" width="10.5" height="1.05" fill="rgb(52,52,52)" />
<rect x="390.8" y="484.7" width="10.5" height="1.05" fill="rgb(77,77,77)" />
<rect x="390.8" y="485.7" width="10.5" height="1.05" fill="rgb(154,154,154)" />
<rect x="390.8" y="486.7" width="10.5" height="1.05" fill="rgb(185,185,185)" />
<rect x="390.8" y="487.7" width="10.5" height="1.05" fill="rgb(173,173,173)" />
<rect x="390.8" y="488.7" width="10.5" height="1.05" fill="rgb(156,156,156)" />
<rect x="390.8" y="489.7" width="10.5" height="1.05" fill="rgb(190,190,190)" />
<rect x="390.8" y="490.7" width="10.5" height="1.05" fill="rgb(188,188,188)" />
<rect x="390.8" y="491.7" width="10.5" height="1.05" fill="rgb(170,170,170)" />
<rect x="390.8" y="492.7" width="10.5" height="1.05" fill="rgb(170,170,170)" />
<rect x="390.8" y="493.7" width="10.5" height="1.05" fill="rgb(189,189,189)" />
<rect x="390.8" y="494.7" width="10.5" height="1.05" fill="rgb(199,199,199)" />
<rect x="390.8" y="495.7" width="10.5" height="1.05" fill="rgb(206,206,206)" />
<rect x="390.8" y="496.7" width="10.5" height="1.05" fill="rgb(198,198,198)" />
<rect x="390.8" y="497.7" width="10.5" height="1.05" fill="rgb(187,187,187)" />
<rect x="390.8" y="498.7" width="10.5" height="1.05" fill="rgb(184,184,184)" />
<rect x="390.8" y="499.7" width="10.5" height="1.05" fill="rgb(179,179,179)" />
<rect x="390.8" y="500.7" width="10.5" height="1.05" fill="rgb(190,190,190)" />
<rect x="390.8" y="501.7" width="10.5" height="1.05" fill="rgb(200,200,200)" />
<rect x="390.8" y="502.7" width="10.5" height="1.05" fill="rgb(204,204,204)" />
<rect x="404.3" y="445.7" width="10.5" height="1.05" fill="rgb(197,197,197)" />
<rect x="404.3" y="446.7" width="10.5" height="1.05" fill="rgb(193,193,193)" />
<rect x="404.3" y="447.7" width="10.5" height="1.05" fill="rgb(190,190,190)" />
<rect x="404.3" y="448.7" width="10.5" height="1.05" fill="rgb(186,186,186)" />
<rect x="404.3" y="449.7" width="10.5" height="1.05" fill="rgb(179,179,179)" />
<rect x="404.3" y="450.7" width="10.5" height="1.05" fill="rgb(177,177,177)" />
<rect x="404.3" y="451.7" width="10.5" height="1.05" fill="rgb(177,177,177)" />
<rect x="404.3" y="452.7" width="10.5" height="1.05" fill="rgb(176,176,176)" />
<rect x="404.3" y="453.7" width="10.5" height="1.05" fill="rgb(170,170,170)" />
<rect x="404.3" y="454.7" width="10.5" height="1.05" fill="rgb(177,177,177)" />
<rect x="404.3" y="455.7" width="10.5" height="1.05" fill="rgb(168,168,168)" />
<rect x="404.3" y="456.7" width="10.5" height="1.05" fill="rgb(166,166,166)" />
<rect x="404.3" y="457.7" width="10.5" height="1.05" fill="rgb(164,164,164)" />
<rect x="404.3" y="458.7" width="10.5" height="1.05" fill="rgb(152,152,152)" />
<rect x="404.3" y="459.7" width="10.5" height="1.05" fill="rgb(156,156,156)" />
<rect x="404.3" y="460.7" width="10.5" height="1.05" fill="rgb(154,154,154)" />
<rect x="404.3" y="461.7" width="10.5" height="1.05" fill="rgb(147,147,147)" />
<rect x="404.3" y="462.7" width="10.5" height="1.05" fill="rgb(147,147,147)" />
<rect x="404.3" y="463.7" width="10.5" height="1.05" fill="rgb(156,156,156)" />
<rect x="404.3" y="464.7" width="10.5" height="1.05" fill="rgb(156,156,156)" />
<rect x="404.3" y="465.7" width="10.5" height="1.05" fill="rgb(154,154,154)" />
<rect x="404.3" y="466.7" width="10.5" height="1.05" fill="rgb(148,148,148)" />
<rect x="404.3" y="467.7" width="10.5" height="1.05" fill="rgb(149,149,149)" />
<rect x="404.3" y="468.7" width="10.5" height="1.05" fill="rgb(139,139,139)" />
<rect x="404.3" y="469.7" width="10.5" height="1.05" fill="rgb(136,136,136)" />
<rect x="404.3" y="470.7" width="10.5" height="1.05" fill="rgb(134,134,134)" />
<rect x="404.3" y="471.7" width="10.5" height="1.05" fill="rgb(134,134,134)" />
<rect x="404.3" y="472.7" width="10.5" height="1.05" fill="rgb(123,123,123)" />
<rect x="404.3" y="473.7" width="10.5" height="1.05" fill="rgb(130,130,130)" />
<rect x="404.3" y="474.7" width="10.5" height="1.05" fill="rgb(118,118,118)" />
<rect x="404.3" y="475.7" width="10.5" height="1.05" fill="rgb(127,127,127)" />
<rect x="404.3" y="476.7" width="10.5" height="1.05" fill="rgb(116,116,116)" />
<rect x="404.3" y="477.7" width="10.5" height="1.05" fill="rgb(122,122,122)" />
<rect x="404.3" y="478.7" width="10.5" height="1.05" fill="rgb(121,121,121)" />
<rect x="404.3" y="479.7" width="10.5" height="1.05" fill="rgb(121,121,121)" />
<rect x="404.3" y="480.7" width="10.5" height="1.05" fill="rgb(111,111,111)" />
<rect x="404.3" y="481.7" width="10.5" height="1.05" fill="rgb(102,102,102)" />
<rect x="404.3" y="482.7" width="10.5" height="1.05" fill="rgb(48,48,48)" />
<rect x="404.3" y="483.7" width="10.5" height="1.05" fill="rgb(49,49,49)" />
<rect x="404.3" y="484.7" width="10.5" height="1.05" fill="rgb(66,66,66)" />
<rect x="404.3" y="485.7" width="10.5" height="1.05" fill="rgb(151,151,151)" />
<rect x="404.3" y="486.7" width="10.5" height="1.05" fill="rgb(152,152,152)" />
<rect x="404.3" y="487.7" width="10.5" height="1.05" fill="rgb(116,116,116)" />
<rect x="404.3" y="488.7" width="10.5" height="1.05" fill="rgb(116,116,116)" />
<rect x="404.3" y="489.7" width="10.5" height="1.05" fill="rgb(145,145,145)" />
<rect x="404.3" y="490.7" width="10.5" height="1.05" fill="rgb(145,145,145)" />
<rect x="404.3" y="491.7" width="10.5" height="1.05" fill="rgb(115,115,115)" />
<rect x="404.3" y="492.7" width="10.5" height="1.05" fill="rgb(121,121,121)" />
<rect x="404.3" y="493.7" width="10.5" height="1.05" fill="rgb(159,159,159)" />
<rect x="404.3" y="494.7" width="10.5" height="1.05" fill="rgb(177,177,177)" />
<rect x="404.3" y="495.7" width="10.5" height="1.05" fill="rgb(183,183,183)" />
<rect x="404.3" y="496.7" width="10.5" height="1.05" fill="rgb(177,177,177)" />
<rect x="404.3" y="497.7" width="10.5" height="1.05" fill="rgb(162,162,162)" />
<rect x="404.3" y="498.7" width="10.5" height="1.05" fill="rgb(144,144,144)" />
<rect x="404.3" y="499.7" width="10.5" height="1.05" fill="rgb(133,133,133)" />
<rect x="404.3" y="500.7" width="10.5" height="1.05" fill="rgb(146,146,146)" />
<rect x="404.3" y="501.7" width="10.5" height="1.05" fill="rgb(161,161,161)" />
<rect x="404.3" y="502.7" width="10.5" height="1.05" fill="rgb(171,171,171)" />
<rect x="417" y="445.7" width="10.199999999999989" height="1.05" fill="rgb(188,188,188)" />
<rect x="417" y="446.7" width="10.199999999999989" height="1.05" fill="rgb(182,182,182)" />
<rect x="417" y="447.7" width="10.199999999999989" height="1.05" fill="rgb(186,186,186)" />
<rect x="417" y="448.7" width="10.199999999999989" height="1.05" fill="rgb(179,179,179)" />
<rect x="417" y="449.7" width="10.199999999999989" height="1.05" fill="rgb(180,180,180)" />
<rect x="417" y="450.7" width="10.199999999999989" height="1.05" fill="rgb(177,177,177)" />
<rect x="417" y="451.7" width="10.199999999999989" height="1.05" fill="rgb(175,175,175)" />
<rect x="417" y="452.7" width="10.199999999999989" height="1.05" fill="rgb(166,166,166)" />
<rect x="417" y="453.7" width="10.199999999999989" height="1.05" fill="rgb(165,165,165)" />
<rect x="417" y="454.7" width="10.199999999999989" height="1.05" fill="rgb(167,167,167)" />
<rect x="417" y="455.7" width="10.199999999999989" height="1.05" fill="rgb(157,157,157)" />
<rect x="417" y="456.7" width="10.199999999999989" height="1.05" fill="rgb(158,158,158)" />
<rect x="417" y="457.7" width="10.199999999999989" height="1.05" fill="rgb(157,157,157)" />
<rect x="417" y="458.7" width="10.199999999999989" height="1.05" fill="rgb(146,146,146)" />
<rect x="417" y="459.7" width="10.199999999999989" height="1.05" fill="rgb(148,148,148)" />
<rect x="417" y="460.7" width="10.199999999999989" height="1.05" fill="rgb(141,141,141)" />
<rect x="417" y="461.7" width="10.199999999999989" height="1.05" fill="rgb(146,146,146)" />
<rect x="417" y="462.7" width="10.199999999999989" height="1.05" fill="rgb(143,143,143)" />
<rect x="417" y="463.7" width="10.199999999999989" height="1.05" fill="rgb(147,147,147)" />
<rect x="417" y="464.7" width="10.199999999999989" height="1.05" fill="rgb(145,145,145)" />
<rect x="417" y="465.7" width="10.199999999999989" height="1.05" fill="rgb(138,138,138)" />
<rect x="417" y="466.7" width="10.199999999999989" height="1.05" fill="rgb(141,141,141)" />
<rect x="417" y="467.7" width="10.199999999999989" height="1.05" fill="rgb(140,140,140)" />
<rect x="417" y="468.7" width="10.199999999999989" height="1.05" fill="rgb(134,134,134)" />
<rect x="417" y="469.7" width="10.199999999999989" height="1.05" fill="rgb(131,131,131)" />
<rect x="417" y="470.7" width="10.199999999999989" height="1.05" fill="rgb(130,130,130)" />
<rect x="417" y="471.7" width="10.199999999999989" height="1.05" fill="rgb(125,125,125)" />
<rect x="417" y="472.7" width="10.199999999999989" height="1.05" fill="rgb(121,121,121)" />
<rect x="417" y="473.7" width="10.199999999999989" height="1.05" fill="rgb(110,110,110)" />
<rect x="417" y="474.7" width="10.199999999999989" height="1.05" fill="rgb(115,115,115)" />
<rect x="417" y="475.7" width="10.199999999999989" height="1.05" fill="rgb(112,112,112)" />
<rect x="417" y="476.7" width="10.199999999999989" height="1.05" fill="rgb(114,114,114)" />
<rect x="417" y="477.7" width="10.199999999999989" height="1.05" fill="rgb(101,101,101)" />
<rect x="417" y="478.7" width="10.199999999999989" height="1.05" fill="rgb(102,102,102)" />
<rect x="417" y="479.7" width="10.199999999999989" height="1.05" fill="rgb(109,109,109)" />
<rect x="417" y="480.7" width="10.199999999999989" height="1.05" fill="rgb(98,98,98)" />
<rect x="417" y="481.7" width="10.199999999999989" height="1.05" fill="rgb(89,89,89)" />
<rect x="417" y="482.7" width="10.199999999999989" height="1.05" fill="rgb(35,35,35)" />
<rect x="417" y="483.7" width="10.199999999999989" height="1.05" fill="rgb(27,27,27)" />
<rect x="417" y="484.7" width="10.199999999999989" height="1.05" fill="rgb(55,55,55)" />
<rect x="417" y="485.7" width="10.199999999999989" height="1.05" fill="rgb(138,138,138)" />
<rect x="417" y="486.7" width="10.199999999999989" height="1.05" fill="rgb(143,143,143)" />
<rect x="417" y="487.7" width="10.199999999999989" height="1.05" fill="rgb(104,104,104)" />
<rect x="417" y="488.7" width="10.199999999999989" height="1.05" fill="rgb(95,95,95)" />
<rect x="417" y="489.7" width="10.199999999999989" height="1.05" fill="rgb(131,131,131)" />
<rect x="417" y="490.7" width="10.199999999999989" height="1.05" fill="rgb(139,139,139)" />
<rect x="417" y="491.7" width="10.199999999999989" height="1.05" fill="rgb(101,101,101)" />
<rect x="417" y="492.7" width="10.199999999999989" height="1.05" fill="rgb(112,112,112)" />
<rect x="417" y="493.7" width="10.199999999999989" height="1.05" fill="rgb(154,154,154)" />
<rect x="417" y="494.7" width="10.199999999999989" height="1.05" fill="rgb(159,159,159)" />
<rect x="417" y="495.7" width="10.199999999999989" height="1.05" fill="rgb(172,172,172)" />
<rect x="417" y="496.7" width="10.199999999999989" height="1.05" fill="rgb(166,166,166)" />
<rect x="417" y="497.7" width="10.199999999999989" height="1.05" fill="rgb(142,142,142)" />
<rect x="417" y="498.7" width="10.199999999999989" height="1.05" fill="rgb(125,125,125)" />
<rect x="417" y="499.7" width="10.199999999999989" height="1.05" fill="rgb(109,109,109)" />
<rect x="417" y="500.7" width="10.199999999999989" height="1.05" fill="rgb(130,130,130)" />
<rect x="417" y="501.7" width="10.199999999999989" height="1.05" fill="rgb(156,156,156)" />
<rect x="417" y="502.7" width="10.199999999999989" height="1.05" fill="rgb(168,168,168)" />
<rect x="429" y="445.7" width="11.100000000000023" height="1.05" fill="rgb(192,192,192)" />
<rect x="429" y="446.7" width="11.100000000000023" height="1.05" fill="rgb(181,181,181)" />
<rect x="429" y="447.7" width="11.100000000000023" height="1.05" fill="rgb(179,179,179)" />
<rect x="429" y="448.7" width="11.100000000000023" height="1.05" fill="rgb(180,180,180)" />
<rect x="429" y="449.7" width="11.100000000000023" height="1.05" fill="rgb(179,179,179)" />
<rect x="429" y="450.7" width="11.100000000000023" height="1.05" fill="rgb(179,179,179)" />
<rect x="429" y="451.7" width="11.100000000000023" height="1.05" fill="rgb(171,171,171)" />
<rect x="429" y="452.7" width="11.100000000000023" height="1.05" fill="rgb(173,173,173)" />
<rect x="429" y="453.7" width="11.100000000000023" height="1.05" fill="rgb(169,169,169)" />
<rect x="429" y="454.7" width="11.100000000000023" height="1.05" fill="rgb(162,162,162)" />
<rect x="429" y="455.7" width="11.100000000000023" height="1.05" fill="rgb(164,164,164)" />
<rect x="429" y="456.7" width="11.100000000000023" height="1.05" fill="rgb(151,151,151)" />
<rect x="429" y="457.7" width="11.100000000000023" height="1.05" fill="rgb(153,153,153)" />
<rect x="429" y="458.7" width="11.100000000000023" height="1.05" fill="rgb(143,143,143)" />
<rect x="429" y="459.7" width="11.100000000000023" height="1.05" fill="rgb(137,137,137)" />
<rect x="429" y="460.7" width="11.100000000000023" height="1.05" fill="rgb(139,139,139)" />
<rect x="429" y="461.7" width="11.100000000000023" height="1.05" fill="rgb(141,141,141)" />
<rect x="429" y="462.7" width="11.100000000000023" height="1.05" fill="rgb(144,144,144)" />
<rect x="429" y="463.7" width="11.100000000000023" height="1.05" fill="rgb(143,143,143)" />
<rect x="429" y="464.7" width="11.100000000000023" height="1.05" fill="rgb(148,148,148)" />
<rect x="429" y="465.7" width="11.100000000000023" height="1.05" fill="rgb(145,145,145)" />
<rect x="429" y="466.7" width="11.100000000000023" height="1.05" fill="rgb(137,137,137)" />
<rect x="429" y="467.7" width="11.100000000000023" height="1.05" fill="rgb(133,133,133)" />
<rect x="429" y="468.7" width="11.100000000000023" height="1.05" fill="rgb(140,140,140)" />
<rect x="429" y="469.7" width="11.100000000000023" height="1.05" fill="rgb(128,128,128)" />
<rect x="429" y="470.7" width="11.100000000000023" height="1.05" fill="rgb(120,120,120)" />
<rect x="429" y="471.7" width="11.100000000000023" height="1.05" fill="rgb(117,117,117)" />
<rect x="429" y="472.7" width="11.100000000000023" height="1.05" fill="rgb(120,120,120)" />
<rect x="429" y="473.7" width="11.100000000000023" height="1.05" fill="rgb(111,111,111)" />
<rect x="429" y="474.7" width="11.100000000000023" height="1.05" fill="rgb(111,111,111)" />
<rect x="429" y="475.7" width="11.100000000000023" height="1.05" fill="rgb(112,112,112)" />
<rect x="429" y="476.7" width="11.100000000000023" height="1.05" fill="rgb(106,106,106)" />
<rect x="429" y="477.7" width="11.100000000000023" height="1.05" fill="rgb(109,109,109)" />
<rect x="429" y="478.7" width="11.100000000000023" height="1.05" fill="rgb(111,111,111)" />
<rect x="429" y="479.7" width="11.100000000000023" height="1.05" fill="rgb(107,107,107)" />
<rect x="429" y="480.7" width="11.100000000000023" height="1.05" fill="rgb(101,101,101)" />
<rect x="429" y="481.7" width="11.100000000000023" height="1.05" fill="rgb(88,88,88)" />
<rect x="429" y="482.7" width="11.100000000000023" height="1.05" fill="rgb(32,32,32)" />
<rect x="429" y="483.7" width="11.100000000000023" height="1.05" fill="rgb(30,30,30)" />
<rect x="429" y="484.7" width="11.100000000000023" height="1.05" fill="rgb(57,57,57)" />
<rect x="429" y="485.7" width="11.100000000000023" height="1.05" fill="rgb(139,139,139)" />
<rect x="429" y="486.7" width="11.100000000000023" height="1.05" fill="rgb(137,137,137)" />
<rect x="429" y="487.7" width="11.100000000000023" height="1.05" fill="rgb(106,106,106)" />
<rect x="429" y="488.7" width="11.100000000000023" height="1.05" fill="rgb(88,88,88)" />
<rect x="429" y="489.7" width="11.100000000000023" height="1.05" fill="rgb(136,136,136)" />
<rect x="429" y="490.7" width="11.100000000000023" height="1.05" fill="rgb(142,142,142)" />
<rect x="429" y="491.7" width="11.100000000000023" height="1.05" fill="rgb(94,94,94)" />
<rect x="429" y="492.7" width="11.100000000000023" height="1.05" fill="rgb(106,106,106)" />
<rect x="429" y="493.7" width="11.100000000000023" height="1.05" fill="rgb(155,155,155)" />
<rect x="429" y="494.7" width="11.100000000000023" height="1.05" fill="rgb(159,159,159)" />
<rect x="429" y="495.7" width="11.100000000000023" height="1.05" fill="rgb(170,170,170)" />
<rect x="429" y="496.7" width="11.100000000000023" height="1.05" fill="rgb(166,166,166)" />
<rect x="429" y="497.7" width="11.100000000000023" height="1.05" fill="rgb(140,140,140)" />
<rect x="429" y="498.7" width="11.100000000000023" height="1.05" fill="rgb(127,127,127)" />
<rect x="429" y="499.7" width="11.100000000000023" height="1.05" fill="rgb(108,108,108)" />
<rect x="429" y="500.7" width="11.100000000000023" height="1.05" fill="rgb(138,138,138)" />
<rect x="429" y="501.7" width="11.100000000000023" height="1.05" fill="rgb(150,150,150)" />
<rect x="429" y="502.7" width="11.100000000000023" height="1.05" fill="rgb(170,170,170)" />
</g>
<g filter="url(#bl)">
<rect x="328.0" y="371.7" width="9.299999999999988" height="3.4" fill="#000" opacity="0.95"/>
<rect x="328.3" y="378.2" width="8.699999999999989" height="1.6" fill="#000" opacity="0.15"/>
<rect x="340.7" y="372.09999999999997" width="8.900000000000011" height="2.6" fill="#000" opacity="0.55"/>
<rect x="341.0" y="378.2" width="8.300000000000011" height="1.6" fill="#000" opacity="0.15"/>
<rect x="352.9" y="371.7" width="8.299999999999988" height="3.4" fill="#000" opacity="0.5"/>
<rect x="353.2" y="378.2" width="7.699999999999989" height="1.6" fill="#000" opacity="0.15"/>
<rect x="365.0" y="372.09999999999997" width="9.299999999999988" height="2.6" fill="#000" opacity="0.5"/>
<rect x="365.3" y="378.2" width="8.699999999999989" height="1.6" fill="#000" opacity="0.15"/>
<rect x="377.59999999999997" y="371.59999999999997" width="9.300000000000045" height="3.6" fill="#000" opacity="0.95"/>
<rect x="377.9" y="378.2" width="8.700000000000045" height="1.6" fill="#000" opacity="0.15"/>
<rect x="404.9" y="371.0" width="8.900000000000011" height="4.8" fill="#000" opacity="1"/>
<rect x="405.2" y="378.2" width="8.300000000000011" height="1.6" fill="#000" opacity="0.15"/>
<rect x="417.5" y="370.79999999999995" width="8.699999999999966" height="5.2" fill="#000" opacity="1"/>
<rect x="417.8" y="378.2" width="8.099999999999966" height="1.6" fill="#000" opacity="0.15"/>
<rect x="429.8" y="370.5" width="9.299999999999988" height="5.8" fill="#000" opacity="1"/>
<rect x="430.1" y="378.2" width="8.699999999999989" height="1.6" fill="#000" opacity="0.15"/>
<rect x="327.8" y="400.4" width="9.699999999999989" height="5.6" fill="#000" opacity="1"/>
<rect x="340.5" y="400.8" width="9.300000000000011" height="4.8" fill="#000" opacity="1"/>
<rect x="352.7" y="400.9" width="8.699999999999989" height="4.6" fill="#000" opacity="1"/>
<rect x="364.8" y="401.0" width="9.699999999999989" height="4.4" fill="#000" opacity="1"/>
<rect x="377.4" y="400.8" width="9.700000000000045" height="4.8" fill="#000" opacity="1"/>
<rect x="391.0" y="401.4" width="9.699999999999989" height="3.6" fill="#000" opacity="0.8"/>
<rect x="404.7" y="400.8" width="9.300000000000011" height="4.8" fill="#000" opacity="1"/>
<rect x="417.3" y="400.5" width="9.099999999999966" height="5.4" fill="#000" opacity="1"/>
<rect x="429.6" y="400.4" width="9.699999999999989" height="5.6" fill="#000" opacity="1"/>
<rect x="327.40000000000003" y="425.6" width="10.49999999999999" height="4.0" fill="#000" opacity="1"/>
<rect x="340.1" y="425.90000000000003" width="10.100000000000012" height="3.4" fill="#000" opacity="1"/>
<rect x="352.3" y="425.70000000000005" width="9.49999999999999" height="3.8" fill="#000" opacity="1"/>
<rect x="364.40000000000003" y="425.70000000000005" width="10.49999999999999" height="3.8" fill="#000" opacity="1"/>
<rect x="377.0" y="425.6" width="10.500000000000046" height="4.0" fill="#000" opacity="1"/>
<rect x="390.6" y="425.90000000000003" width="10.49999999999999" height="3.4" fill="#000" opacity="0.95"/>
<rect x="404.3" y="425.40000000000003" width="10.100000000000012" height="4.4" fill="#000" opacity="1"/>
<rect x="416.90000000000003" y="425.3" width="9.899999999999967" height="4.6" fill="#000" opacity="1"/>
<rect x="429.20000000000005" y="425.3" width="10.49999999999999" height="4.6" fill="#000" opacity="1"/>
</g>
<rect x="324.4" y="362" width="118.9" height="25" fill="none" stroke="#808080" stroke-width="0.9"/>
<rect x="324.4" y="392.3" width="118.9" height="20.0" fill="none" stroke="#808080" stroke-width="0.9"/>
<rect x="324.4" y="417.5" width="118.9" height="19.5" fill="none" stroke="#808080" stroke-width="0.9"/>
<rect x="324.4" y="442.3" width="118.9" height="63.89999999999998" fill="none" stroke="#808080" stroke-width="0.9"/></svg></body></html>
